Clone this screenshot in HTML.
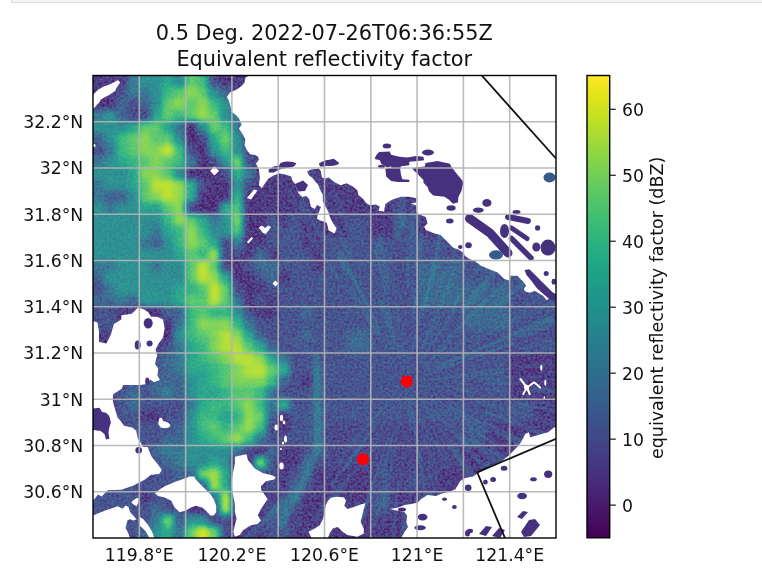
<!DOCTYPE html>
<html><head><meta charset="utf-8"><style>
html,body{margin:0;padding:0;background:#fff;width:762px;height:570px;overflow:hidden}
#nb{position:absolute;left:11px;top:-10px;width:800px;height:11.5px;background:#f3f3f3;border:1px solid #dcdcdc;border-top:none}
svg{position:absolute;left:0;top:0}
.t{font-family:"DejaVu Sans","Liberation Sans",sans-serif;font-size:17.25px;fill:#111}
.ti{font-family:"DejaVu Sans","Liberation Sans",sans-serif;font-size:20.85px;fill:#111}
</style></head><body>
<div id="nb"></div>
<svg width="762" height="570" viewBox="0 0 762 570">
<defs>
<clipPath id="pc"><rect x="93" y="75.5" width="463" height="462.5"/></clipPath>
<filter id="bl" x="-5%" y="-5%" width="110%" height="110%" color-interpolation-filters="sRGB"><feGaussianBlur stdDeviation="3.2" result="b0"/><feGaussianBlur in="b0" stdDeviation="12" result="lo"/><feComposite in="b0" in2="lo" operator="arithmetic" k1="0" k2="1.3" k3="-0.3" k4="0"/></filter>
<filter id="bl2" color-interpolation-filters="sRGB"><feGaussianBlur stdDeviation="0.6"/></filter>
<filter id="cm" filterUnits="userSpaceOnUse" x="53" y="35.5" width="543" height="542.5" color-interpolation-filters="sRGB">
<feOffset in="SourceGraphic" dx="0" dy="0" result="b"/>
<feTurbulence type="fractalNoise" baseFrequency="0.42" numOctaves="2" seed="5" result="n"/>
<feColorMatrix in="n" type="matrix" values="1 0 0 0 0  1 0 0 0 0  1 0 0 0 0  0 0 0 0 1" result="ng"/>
<feComposite in="b" in2="ng" operator="arithmetic" k1="-0.660" k2="1.330" k3="0.55" k4="-0.275" result="v"/>
<feComponentTransfer in="v"><feFuncR type="table" tableValues="0.267 0.277 0.282 0.283 0.279 0.271 0.259 0.245 0.230 0.214 0.199 0.186 0.173 0.161 0.149 0.138 0.128 0.121 0.121 0.132 0.158 0.197 0.246 0.304 0.369 0.440 0.516 0.596 0.678 0.762 0.846 0.926 0.993"/><feFuncG type="table" tableValues="0.005 0.050 0.095 0.136 0.175 0.214 0.252 0.288 0.322 0.356 0.388 0.419 0.449 0.479 0.508 0.537 0.567 0.596 0.626 0.655 0.684 0.712 0.739 0.765 0.789 0.811 0.831 0.849 0.864 0.876 0.887 0.897 0.906"/><feFuncB type="table" tableValues="0.329 0.376 0.417 0.453 0.483 0.507 0.525 0.537 0.546 0.551 0.555 0.557 0.558 0.558 0.557 0.555 0.551 0.544 0.533 0.520 0.502 0.479 0.452 0.420 0.383 0.341 0.294 0.243 0.190 0.137 0.100 0.104 0.144"/></feComponentTransfer>
</filter>
<linearGradient id="vg" x1="0" y1="1" x2="0" y2="0">
<stop offset="0.000" stop-color="#440154"/>
<stop offset="0.050" stop-color="#471365"/>
<stop offset="0.100" stop-color="#482475"/>
<stop offset="0.150" stop-color="#463480"/>
<stop offset="0.200" stop-color="#414487"/>
<stop offset="0.250" stop-color="#3b528b"/>
<stop offset="0.300" stop-color="#355f8d"/>
<stop offset="0.350" stop-color="#2f6c8e"/>
<stop offset="0.400" stop-color="#2a788e"/>
<stop offset="0.450" stop-color="#25848e"/>
<stop offset="0.500" stop-color="#21918c"/>
<stop offset="0.550" stop-color="#1e9c89"/>
<stop offset="0.600" stop-color="#22a884"/>
<stop offset="0.650" stop-color="#2fb47c"/>
<stop offset="0.700" stop-color="#44bf70"/>
<stop offset="0.750" stop-color="#5ec962"/>
<stop offset="0.800" stop-color="#7ad151"/>
<stop offset="0.850" stop-color="#9bd93c"/>
<stop offset="0.900" stop-color="#bddf26"/>
<stop offset="0.950" stop-color="#dfe318"/>
<stop offset="1.000" stop-color="#fde725"/>
</linearGradient>
</defs>
<g clip-path="url(#pc)">
<g filter="url(#cm)">
<g filter="url(#bl)">
<rect x="46.4" y="28.9" width="81.6" height="12.2" fill="#242424"/>
<rect x="127.4" y="28.9" width="12.2" height="12.2" fill="#5b5b5b"/>
<rect x="139.0" y="28.9" width="23.8" height="12.2" fill="#727272"/>
<rect x="162.1" y="28.9" width="12.2" height="12.2" fill="#898989"/>
<rect x="173.7" y="28.9" width="12.2" height="12.2" fill="#727272"/>
<rect x="185.3" y="28.9" width="12.2" height="12.2" fill="#adadad"/>
<rect x="196.9" y="28.9" width="12.2" height="12.2" fill="#9b9b9b"/>
<rect x="208.4" y="28.9" width="12.2" height="12.2" fill="#373737"/>
<rect x="220.0" y="28.9" width="382.6" height="12.2" fill="#242424"/>
<rect x="46.4" y="40.5" width="81.6" height="12.2" fill="#242424"/>
<rect x="127.4" y="40.5" width="12.2" height="12.2" fill="#5b5b5b"/>
<rect x="139.0" y="40.5" width="23.8" height="12.2" fill="#727272"/>
<rect x="162.1" y="40.5" width="12.2" height="12.2" fill="#898989"/>
<rect x="173.7" y="40.5" width="12.2" height="12.2" fill="#727272"/>
<rect x="185.3" y="40.5" width="12.2" height="12.2" fill="#adadad"/>
<rect x="196.9" y="40.5" width="12.2" height="12.2" fill="#9b9b9b"/>
<rect x="208.4" y="40.5" width="12.2" height="12.2" fill="#373737"/>
<rect x="220.0" y="40.5" width="382.6" height="12.2" fill="#242424"/>
<rect x="46.4" y="52.1" width="81.6" height="12.2" fill="#242424"/>
<rect x="127.4" y="52.1" width="12.2" height="12.2" fill="#5b5b5b"/>
<rect x="139.0" y="52.1" width="23.8" height="12.2" fill="#727272"/>
<rect x="162.1" y="52.1" width="12.2" height="12.2" fill="#898989"/>
<rect x="173.7" y="52.1" width="12.2" height="12.2" fill="#727272"/>
<rect x="185.3" y="52.1" width="12.2" height="12.2" fill="#adadad"/>
<rect x="196.9" y="52.1" width="12.2" height="12.2" fill="#9b9b9b"/>
<rect x="208.4" y="52.1" width="12.2" height="12.2" fill="#373737"/>
<rect x="220.0" y="52.1" width="382.6" height="12.2" fill="#242424"/>
<rect x="46.4" y="63.6" width="81.6" height="12.2" fill="#242424"/>
<rect x="127.4" y="63.6" width="12.2" height="12.2" fill="#5b5b5b"/>
<rect x="139.0" y="63.6" width="23.8" height="12.2" fill="#727272"/>
<rect x="162.1" y="63.6" width="12.2" height="12.2" fill="#898989"/>
<rect x="173.7" y="63.6" width="12.2" height="12.2" fill="#727272"/>
<rect x="185.3" y="63.6" width="12.2" height="12.2" fill="#adadad"/>
<rect x="196.9" y="63.6" width="12.2" height="12.2" fill="#9b9b9b"/>
<rect x="208.4" y="63.6" width="12.2" height="12.2" fill="#373737"/>
<rect x="220.0" y="63.6" width="382.6" height="12.2" fill="#242424"/>
<rect x="46.4" y="75.2" width="81.6" height="12.2" fill="#242424"/>
<rect x="127.4" y="75.2" width="12.2" height="12.2" fill="#5b5b5b"/>
<rect x="139.0" y="75.2" width="23.8" height="12.2" fill="#727272"/>
<rect x="162.1" y="75.2" width="12.2" height="12.2" fill="#898989"/>
<rect x="173.7" y="75.2" width="12.2" height="12.2" fill="#727272"/>
<rect x="185.3" y="75.2" width="12.2" height="12.2" fill="#adadad"/>
<rect x="196.9" y="75.2" width="12.2" height="12.2" fill="#9b9b9b"/>
<rect x="208.4" y="75.2" width="12.2" height="12.2" fill="#373737"/>
<rect x="220.0" y="75.2" width="382.6" height="12.2" fill="#242424"/>
<rect x="46.4" y="86.8" width="70.0" height="12.2" fill="#242424"/>
<rect x="115.9" y="86.8" width="12.2" height="12.2" fill="#373737"/>
<rect x="127.4" y="86.8" width="23.8" height="12.2" fill="#5b5b5b"/>
<rect x="150.6" y="86.8" width="12.2" height="12.2" fill="#727272"/>
<rect x="162.1" y="86.8" width="12.2" height="12.2" fill="#9b9b9b"/>
<rect x="173.7" y="86.8" width="12.2" height="12.2" fill="#adadad"/>
<rect x="185.3" y="86.8" width="12.2" height="12.2" fill="#bfbfbf"/>
<rect x="196.9" y="86.8" width="12.2" height="12.2" fill="#adadad"/>
<rect x="208.4" y="86.8" width="12.2" height="12.2" fill="#727272"/>
<rect x="220.0" y="86.8" width="12.2" height="12.2" fill="#494949"/>
<rect x="231.6" y="86.8" width="371.0" height="12.2" fill="#242424"/>
<rect x="46.4" y="98.3" width="70.0" height="12.2" fill="#242424"/>
<rect x="115.9" y="98.3" width="12.2" height="12.2" fill="#494949"/>
<rect x="127.4" y="98.3" width="12.2" height="12.2" fill="#373737"/>
<rect x="139.0" y="98.3" width="12.2" height="12.2" fill="#494949"/>
<rect x="150.6" y="98.3" width="12.2" height="12.2" fill="#727272"/>
<rect x="162.1" y="98.3" width="12.2" height="12.2" fill="#adadad"/>
<rect x="173.7" y="98.3" width="12.2" height="12.2" fill="#bfbfbf"/>
<rect x="185.3" y="98.3" width="12.2" height="12.2" fill="#adadad"/>
<rect x="196.9" y="98.3" width="12.2" height="12.2" fill="#bfbfbf"/>
<rect x="208.4" y="98.3" width="12.2" height="12.2" fill="#9b9b9b"/>
<rect x="220.0" y="98.3" width="12.2" height="12.2" fill="#727272"/>
<rect x="231.6" y="98.3" width="12.2" height="12.2" fill="#373737"/>
<rect x="243.2" y="98.3" width="359.4" height="12.2" fill="#242424"/>
<rect x="46.4" y="109.9" width="58.5" height="12.2" fill="#5b5b5b"/>
<rect x="104.3" y="109.9" width="12.2" height="12.2" fill="#727272"/>
<rect x="115.9" y="109.9" width="12.2" height="12.2" fill="#494949"/>
<rect x="127.4" y="109.9" width="23.8" height="12.2" fill="#373737"/>
<rect x="150.6" y="109.9" width="12.2" height="12.2" fill="#898989"/>
<rect x="162.1" y="109.9" width="12.2" height="12.2" fill="#adadad"/>
<rect x="173.7" y="109.9" width="12.2" height="12.2" fill="#9b9b9b"/>
<rect x="185.3" y="109.9" width="12.2" height="12.2" fill="#adadad"/>
<rect x="196.9" y="109.9" width="12.2" height="12.2" fill="#bfbfbf"/>
<rect x="208.4" y="109.9" width="12.2" height="12.2" fill="#adadad"/>
<rect x="220.0" y="109.9" width="12.2" height="12.2" fill="#727272"/>
<rect x="231.6" y="109.9" width="12.2" height="12.2" fill="#5b5b5b"/>
<rect x="243.2" y="109.9" width="359.4" height="12.2" fill="#242424"/>
<rect x="46.4" y="121.5" width="81.6" height="12.2" fill="#727272"/>
<rect x="127.4" y="121.5" width="12.2" height="12.2" fill="#898989"/>
<rect x="139.0" y="121.5" width="23.8" height="12.2" fill="#adadad"/>
<rect x="162.1" y="121.5" width="12.2" height="12.2" fill="#898989"/>
<rect x="173.7" y="121.5" width="12.2" height="12.2" fill="#5b5b5b"/>
<rect x="185.3" y="121.5" width="12.2" height="12.2" fill="#242424"/>
<rect x="196.9" y="121.5" width="12.2" height="12.2" fill="#727272"/>
<rect x="208.4" y="121.5" width="12.2" height="12.2" fill="#adadad"/>
<rect x="220.0" y="121.5" width="12.2" height="12.2" fill="#9b9b9b"/>
<rect x="231.6" y="121.5" width="12.2" height="12.2" fill="#5b5b5b"/>
<rect x="243.2" y="121.5" width="359.4" height="12.2" fill="#242424"/>
<rect x="46.4" y="133.0" width="58.5" height="12.2" fill="#494949"/>
<rect x="104.3" y="133.0" width="12.2" height="12.2" fill="#727272"/>
<rect x="115.9" y="133.0" width="12.2" height="12.2" fill="#9b9b9b"/>
<rect x="127.4" y="133.0" width="12.2" height="12.2" fill="#adadad"/>
<rect x="139.0" y="133.0" width="12.2" height="12.2" fill="#bfbfbf"/>
<rect x="150.6" y="133.0" width="23.8" height="12.2" fill="#adadad"/>
<rect x="173.7" y="133.0" width="12.2" height="12.2" fill="#727272"/>
<rect x="185.3" y="133.0" width="12.2" height="12.2" fill="#242424"/>
<rect x="196.9" y="133.0" width="12.2" height="12.2" fill="#373737"/>
<rect x="208.4" y="133.0" width="12.2" height="12.2" fill="#898989"/>
<rect x="220.0" y="133.0" width="12.2" height="12.2" fill="#adadad"/>
<rect x="231.6" y="133.0" width="12.2" height="12.2" fill="#727272"/>
<rect x="243.2" y="133.0" width="359.4" height="12.2" fill="#242424"/>
<rect x="46.4" y="144.6" width="58.5" height="12.2" fill="#373737"/>
<rect x="104.3" y="144.6" width="12.2" height="12.2" fill="#5b5b5b"/>
<rect x="115.9" y="144.6" width="12.2" height="12.2" fill="#9b9b9b"/>
<rect x="127.4" y="144.6" width="12.2" height="12.2" fill="#adadad"/>
<rect x="139.0" y="144.6" width="23.8" height="12.2" fill="#bfbfbf"/>
<rect x="162.1" y="144.6" width="12.2" height="12.2" fill="#d1d1d1"/>
<rect x="173.7" y="144.6" width="12.2" height="12.2" fill="#9b9b9b"/>
<rect x="185.3" y="144.6" width="12.2" height="12.2" fill="#373737"/>
<rect x="196.9" y="144.6" width="12.2" height="12.2" fill="#242424"/>
<rect x="208.4" y="144.6" width="12.2" height="12.2" fill="#727272"/>
<rect x="220.0" y="144.6" width="12.2" height="12.2" fill="#9b9b9b"/>
<rect x="231.6" y="144.6" width="12.2" height="12.2" fill="#727272"/>
<rect x="243.2" y="144.6" width="12.2" height="12.2" fill="#373737"/>
<rect x="254.7" y="144.6" width="347.9" height="12.2" fill="#242424"/>
<rect x="46.4" y="156.1" width="58.5" height="12.2" fill="#5b5b5b"/>
<rect x="104.3" y="156.1" width="12.2" height="12.2" fill="#727272"/>
<rect x="115.9" y="156.1" width="12.2" height="12.2" fill="#898989"/>
<rect x="127.4" y="156.1" width="12.2" height="12.2" fill="#9b9b9b"/>
<rect x="139.0" y="156.1" width="12.2" height="12.2" fill="#adadad"/>
<rect x="150.6" y="156.1" width="12.2" height="12.2" fill="#bfbfbf"/>
<rect x="162.1" y="156.1" width="12.2" height="12.2" fill="#adadad"/>
<rect x="173.7" y="156.1" width="12.2" height="12.2" fill="#9b9b9b"/>
<rect x="185.3" y="156.1" width="12.2" height="12.2" fill="#5b5b5b"/>
<rect x="196.9" y="156.1" width="12.2" height="12.2" fill="#242424"/>
<rect x="208.4" y="156.1" width="12.2" height="12.2" fill="#373737"/>
<rect x="220.0" y="156.1" width="12.2" height="12.2" fill="#727272"/>
<rect x="231.6" y="156.1" width="12.2" height="12.2" fill="#adadad"/>
<rect x="243.2" y="156.1" width="12.2" height="12.2" fill="#373737"/>
<rect x="254.7" y="156.1" width="347.9" height="12.2" fill="#242424"/>
<rect x="46.4" y="167.7" width="81.6" height="12.2" fill="#727272"/>
<rect x="127.4" y="167.7" width="12.2" height="12.2" fill="#898989"/>
<rect x="139.0" y="167.7" width="23.8" height="12.2" fill="#bfbfbf"/>
<rect x="162.1" y="167.7" width="12.2" height="12.2" fill="#adadad"/>
<rect x="173.7" y="167.7" width="12.2" height="12.2" fill="#727272"/>
<rect x="185.3" y="167.7" width="35.3" height="12.2" fill="#242424"/>
<rect x="220.0" y="167.7" width="12.2" height="12.2" fill="#373737"/>
<rect x="231.6" y="167.7" width="12.2" height="12.2" fill="#898989"/>
<rect x="243.2" y="167.7" width="12.2" height="12.2" fill="#5b5b5b"/>
<rect x="254.7" y="167.7" width="347.9" height="12.2" fill="#242424"/>
<rect x="46.4" y="179.3" width="58.5" height="12.2" fill="#5b5b5b"/>
<rect x="104.3" y="179.3" width="23.8" height="12.2" fill="#727272"/>
<rect x="127.4" y="179.3" width="12.2" height="12.2" fill="#898989"/>
<rect x="139.0" y="179.3" width="12.2" height="12.2" fill="#adadad"/>
<rect x="150.6" y="179.3" width="23.8" height="12.2" fill="#d1d1d1"/>
<rect x="173.7" y="179.3" width="12.2" height="12.2" fill="#bfbfbf"/>
<rect x="185.3" y="179.3" width="12.2" height="12.2" fill="#898989"/>
<rect x="196.9" y="179.3" width="12.2" height="12.2" fill="#373737"/>
<rect x="208.4" y="179.3" width="23.8" height="12.2" fill="#242424"/>
<rect x="231.6" y="179.3" width="12.2" height="12.2" fill="#727272"/>
<rect x="243.2" y="179.3" width="12.2" height="12.2" fill="#373737"/>
<rect x="254.7" y="179.3" width="347.9" height="12.2" fill="#242424"/>
<rect x="46.4" y="190.8" width="58.5" height="12.2" fill="#5b5b5b"/>
<rect x="104.3" y="190.8" width="23.8" height="12.2" fill="#494949"/>
<rect x="127.4" y="190.8" width="12.2" height="12.2" fill="#727272"/>
<rect x="139.0" y="190.8" width="12.2" height="12.2" fill="#adadad"/>
<rect x="150.6" y="190.8" width="12.2" height="12.2" fill="#bfbfbf"/>
<rect x="162.1" y="190.8" width="12.2" height="12.2" fill="#d1d1d1"/>
<rect x="173.7" y="190.8" width="12.2" height="12.2" fill="#bfbfbf"/>
<rect x="185.3" y="190.8" width="12.2" height="12.2" fill="#898989"/>
<rect x="196.9" y="190.8" width="35.3" height="12.2" fill="#242424"/>
<rect x="231.6" y="190.8" width="12.2" height="12.2" fill="#898989"/>
<rect x="243.2" y="190.8" width="359.4" height="12.2" fill="#242424"/>
<rect x="46.4" y="202.4" width="58.5" height="12.2" fill="#727272"/>
<rect x="104.3" y="202.4" width="12.2" height="12.2" fill="#5b5b5b"/>
<rect x="115.9" y="202.4" width="23.8" height="12.2" fill="#727272"/>
<rect x="139.0" y="202.4" width="23.8" height="12.2" fill="#898989"/>
<rect x="162.1" y="202.4" width="12.2" height="12.2" fill="#adadad"/>
<rect x="173.7" y="202.4" width="12.2" height="12.2" fill="#bfbfbf"/>
<rect x="185.3" y="202.4" width="12.2" height="12.2" fill="#373737"/>
<rect x="196.9" y="202.4" width="23.8" height="12.2" fill="#242424"/>
<rect x="220.0" y="202.4" width="12.2" height="12.2" fill="#898989"/>
<rect x="231.6" y="202.4" width="12.2" height="12.2" fill="#9b9b9b"/>
<rect x="243.2" y="202.4" width="359.4" height="12.2" fill="#242424"/>
<rect x="46.4" y="213.9" width="116.3" height="12.2" fill="#727272"/>
<rect x="162.1" y="213.9" width="12.2" height="12.2" fill="#9b9b9b"/>
<rect x="173.7" y="213.9" width="12.2" height="12.2" fill="#bfbfbf"/>
<rect x="185.3" y="213.9" width="12.2" height="12.2" fill="#adadad"/>
<rect x="196.9" y="213.9" width="12.2" height="12.2" fill="#898989"/>
<rect x="208.4" y="213.9" width="12.2" height="12.2" fill="#5b5b5b"/>
<rect x="220.0" y="213.9" width="12.2" height="12.2" fill="#727272"/>
<rect x="231.6" y="213.9" width="12.2" height="12.2" fill="#adadad"/>
<rect x="243.2" y="213.9" width="23.8" height="12.2" fill="#242424"/>
<rect x="266.3" y="213.9" width="12.2" height="12.2" fill="#373737"/>
<rect x="277.9" y="213.9" width="12.2" height="12.2" fill="#242424"/>
<rect x="289.5" y="213.9" width="12.2" height="12.2" fill="#373737"/>
<rect x="301.1" y="213.9" width="46.9" height="12.2" fill="#242424"/>
<rect x="347.3" y="213.9" width="23.8" height="12.2" fill="#373737"/>
<rect x="370.5" y="213.9" width="23.8" height="12.2" fill="#242424"/>
<rect x="393.6" y="213.9" width="23.8" height="12.2" fill="#373737"/>
<rect x="416.8" y="213.9" width="185.8" height="12.2" fill="#242424"/>
<rect x="46.4" y="225.5" width="104.8" height="12.2" fill="#727272"/>
<rect x="150.6" y="225.5" width="12.2" height="12.2" fill="#5b5b5b"/>
<rect x="162.1" y="225.5" width="12.2" height="12.2" fill="#898989"/>
<rect x="173.7" y="225.5" width="12.2" height="12.2" fill="#9b9b9b"/>
<rect x="185.3" y="225.5" width="12.2" height="12.2" fill="#bfbfbf"/>
<rect x="196.9" y="225.5" width="12.2" height="12.2" fill="#9b9b9b"/>
<rect x="208.4" y="225.5" width="23.8" height="12.2" fill="#727272"/>
<rect x="231.6" y="225.5" width="12.2" height="12.2" fill="#9b9b9b"/>
<rect x="243.2" y="225.5" width="23.8" height="12.2" fill="#242424"/>
<rect x="266.3" y="225.5" width="35.3" height="12.2" fill="#373737"/>
<rect x="301.1" y="225.5" width="46.9" height="12.2" fill="#242424"/>
<rect x="347.3" y="225.5" width="23.8" height="12.2" fill="#373737"/>
<rect x="370.5" y="225.5" width="23.8" height="12.2" fill="#242424"/>
<rect x="393.6" y="225.5" width="23.8" height="12.2" fill="#373737"/>
<rect x="416.8" y="225.5" width="185.8" height="12.2" fill="#242424"/>
<rect x="46.4" y="237.1" width="93.2" height="12.2" fill="#727272"/>
<rect x="139.0" y="237.1" width="12.2" height="12.2" fill="#5b5b5b"/>
<rect x="150.6" y="237.1" width="12.2" height="12.2" fill="#494949"/>
<rect x="162.1" y="237.1" width="12.2" height="12.2" fill="#727272"/>
<rect x="173.7" y="237.1" width="12.2" height="12.2" fill="#9b9b9b"/>
<rect x="185.3" y="237.1" width="12.2" height="12.2" fill="#bfbfbf"/>
<rect x="196.9" y="237.1" width="12.2" height="12.2" fill="#adadad"/>
<rect x="208.4" y="237.1" width="12.2" height="12.2" fill="#898989"/>
<rect x="220.0" y="237.1" width="12.2" height="12.2" fill="#373737"/>
<rect x="231.6" y="237.1" width="12.2" height="12.2" fill="#5b5b5b"/>
<rect x="243.2" y="237.1" width="23.8" height="12.2" fill="#242424"/>
<rect x="266.3" y="237.1" width="35.3" height="12.2" fill="#373737"/>
<rect x="301.1" y="237.1" width="23.8" height="12.2" fill="#242424"/>
<rect x="324.2" y="237.1" width="139.5" height="12.2" fill="#373737"/>
<rect x="463.1" y="237.1" width="139.5" height="12.2" fill="#242424"/>
<rect x="46.4" y="248.6" width="127.9" height="12.2" fill="#727272"/>
<rect x="173.7" y="248.6" width="12.2" height="12.2" fill="#898989"/>
<rect x="185.3" y="248.6" width="12.2" height="12.2" fill="#adadad"/>
<rect x="196.9" y="248.6" width="12.2" height="12.2" fill="#9b9b9b"/>
<rect x="208.4" y="248.6" width="12.2" height="12.2" fill="#bfbfbf"/>
<rect x="220.0" y="248.6" width="23.8" height="12.2" fill="#373737"/>
<rect x="243.2" y="248.6" width="12.2" height="12.2" fill="#242424"/>
<rect x="254.7" y="248.6" width="12.2" height="12.2" fill="#494949"/>
<rect x="266.3" y="248.6" width="12.2" height="12.2" fill="#242424"/>
<rect x="277.9" y="248.6" width="35.3" height="12.2" fill="#373737"/>
<rect x="312.6" y="248.6" width="12.2" height="12.2" fill="#242424"/>
<rect x="324.2" y="248.6" width="139.5" height="12.2" fill="#373737"/>
<rect x="463.1" y="248.6" width="139.5" height="12.2" fill="#242424"/>
<rect x="46.4" y="260.2" width="70.0" height="12.2" fill="#5b5b5b"/>
<rect x="115.9" y="260.2" width="35.3" height="12.2" fill="#727272"/>
<rect x="150.6" y="260.2" width="12.2" height="12.2" fill="#5b5b5b"/>
<rect x="162.1" y="260.2" width="23.8" height="12.2" fill="#727272"/>
<rect x="185.3" y="260.2" width="12.2" height="12.2" fill="#adadad"/>
<rect x="196.9" y="260.2" width="12.2" height="12.2" fill="#d1d1d1"/>
<rect x="208.4" y="260.2" width="12.2" height="12.2" fill="#adadad"/>
<rect x="220.0" y="260.2" width="12.2" height="12.2" fill="#373737"/>
<rect x="231.6" y="260.2" width="12.2" height="12.2" fill="#242424"/>
<rect x="243.2" y="260.2" width="12.2" height="12.2" fill="#373737"/>
<rect x="254.7" y="260.2" width="23.8" height="12.2" fill="#494949"/>
<rect x="277.9" y="260.2" width="35.3" height="12.2" fill="#373737"/>
<rect x="312.6" y="260.2" width="12.2" height="12.2" fill="#242424"/>
<rect x="324.2" y="260.2" width="93.2" height="12.2" fill="#373737"/>
<rect x="416.8" y="260.2" width="46.9" height="12.2" fill="#494949"/>
<rect x="463.1" y="260.2" width="70.0" height="12.2" fill="#373737"/>
<rect x="532.5" y="260.2" width="70.0" height="12.2" fill="#242424"/>
<rect x="46.4" y="271.8" width="58.5" height="12.2" fill="#494949"/>
<rect x="104.3" y="271.8" width="81.6" height="12.2" fill="#727272"/>
<rect x="185.3" y="271.8" width="12.2" height="12.2" fill="#adadad"/>
<rect x="196.9" y="271.8" width="12.2" height="12.2" fill="#d1d1d1"/>
<rect x="208.4" y="271.8" width="12.2" height="12.2" fill="#bfbfbf"/>
<rect x="220.0" y="271.8" width="12.2" height="12.2" fill="#898989"/>
<rect x="231.6" y="271.8" width="23.8" height="12.2" fill="#242424"/>
<rect x="254.7" y="271.8" width="12.2" height="12.2" fill="#373737"/>
<rect x="266.3" y="271.8" width="12.2" height="12.2" fill="#494949"/>
<rect x="277.9" y="271.8" width="12.2" height="12.2" fill="#242424"/>
<rect x="289.5" y="271.8" width="127.9" height="12.2" fill="#373737"/>
<rect x="416.8" y="271.8" width="46.9" height="12.2" fill="#494949"/>
<rect x="463.1" y="271.8" width="70.0" height="12.2" fill="#373737"/>
<rect x="532.5" y="271.8" width="70.0" height="12.2" fill="#242424"/>
<rect x="46.4" y="283.3" width="58.5" height="12.2" fill="#373737"/>
<rect x="104.3" y="283.3" width="12.2" height="12.2" fill="#5b5b5b"/>
<rect x="115.9" y="283.3" width="58.5" height="12.2" fill="#727272"/>
<rect x="173.7" y="283.3" width="12.2" height="12.2" fill="#898989"/>
<rect x="185.3" y="283.3" width="12.2" height="12.2" fill="#9b9b9b"/>
<rect x="196.9" y="283.3" width="12.2" height="12.2" fill="#adadad"/>
<rect x="208.4" y="283.3" width="12.2" height="12.2" fill="#d1d1d1"/>
<rect x="220.0" y="283.3" width="12.2" height="12.2" fill="#adadad"/>
<rect x="231.6" y="283.3" width="12.2" height="12.2" fill="#373737"/>
<rect x="243.2" y="283.3" width="23.8" height="12.2" fill="#242424"/>
<rect x="266.3" y="283.3" width="151.1" height="12.2" fill="#373737"/>
<rect x="416.8" y="283.3" width="93.2" height="12.2" fill="#494949"/>
<rect x="509.4" y="283.3" width="93.2" height="12.2" fill="#373737"/>
<rect x="46.4" y="294.9" width="70.0" height="12.2" fill="#494949"/>
<rect x="115.9" y="294.9" width="12.2" height="12.2" fill="#5b5b5b"/>
<rect x="127.4" y="294.9" width="12.2" height="12.2" fill="#494949"/>
<rect x="139.0" y="294.9" width="35.3" height="12.2" fill="#727272"/>
<rect x="173.7" y="294.9" width="12.2" height="12.2" fill="#898989"/>
<rect x="185.3" y="294.9" width="23.8" height="12.2" fill="#adadad"/>
<rect x="208.4" y="294.9" width="12.2" height="12.2" fill="#d1d1d1"/>
<rect x="220.0" y="294.9" width="12.2" height="12.2" fill="#adadad"/>
<rect x="231.6" y="294.9" width="12.2" height="12.2" fill="#5b5b5b"/>
<rect x="243.2" y="294.9" width="12.2" height="12.2" fill="#242424"/>
<rect x="254.7" y="294.9" width="12.2" height="12.2" fill="#373737"/>
<rect x="266.3" y="294.9" width="12.2" height="12.2" fill="#242424"/>
<rect x="277.9" y="294.9" width="139.5" height="12.2" fill="#373737"/>
<rect x="416.8" y="294.9" width="93.2" height="12.2" fill="#494949"/>
<rect x="509.4" y="294.9" width="93.2" height="12.2" fill="#373737"/>
<rect x="46.4" y="306.4" width="70.0" height="12.2" fill="#373737"/>
<rect x="115.9" y="306.4" width="46.9" height="12.2" fill="#242424"/>
<rect x="162.1" y="306.4" width="23.8" height="12.2" fill="#494949"/>
<rect x="185.3" y="306.4" width="12.2" height="12.2" fill="#9b9b9b"/>
<rect x="196.9" y="306.4" width="12.2" height="12.2" fill="#adadad"/>
<rect x="208.4" y="306.4" width="23.8" height="12.2" fill="#9b9b9b"/>
<rect x="231.6" y="306.4" width="12.2" height="12.2" fill="#727272"/>
<rect x="243.2" y="306.4" width="12.2" height="12.2" fill="#373737"/>
<rect x="254.7" y="306.4" width="23.8" height="12.2" fill="#242424"/>
<rect x="277.9" y="306.4" width="23.8" height="12.2" fill="#373737"/>
<rect x="301.1" y="306.4" width="12.2" height="12.2" fill="#494949"/>
<rect x="312.6" y="306.4" width="151.1" height="12.2" fill="#373737"/>
<rect x="463.1" y="306.4" width="46.9" height="12.2" fill="#494949"/>
<rect x="509.4" y="306.4" width="93.2" height="12.2" fill="#373737"/>
<rect x="46.4" y="318.0" width="70.0" height="12.2" fill="#373737"/>
<rect x="115.9" y="318.0" width="58.5" height="12.2" fill="#242424"/>
<rect x="173.7" y="318.0" width="12.2" height="12.2" fill="#5b5b5b"/>
<rect x="185.3" y="318.0" width="12.2" height="12.2" fill="#9b9b9b"/>
<rect x="196.9" y="318.0" width="35.3" height="12.2" fill="#bfbfbf"/>
<rect x="231.6" y="318.0" width="12.2" height="12.2" fill="#9b9b9b"/>
<rect x="243.2" y="318.0" width="12.2" height="12.2" fill="#5b5b5b"/>
<rect x="254.7" y="318.0" width="208.9" height="12.2" fill="#373737"/>
<rect x="463.1" y="318.0" width="46.9" height="12.2" fill="#494949"/>
<rect x="509.4" y="318.0" width="93.2" height="12.2" fill="#373737"/>
<rect x="46.4" y="329.6" width="127.9" height="12.2" fill="#242424"/>
<rect x="173.7" y="329.6" width="12.2" height="12.2" fill="#727272"/>
<rect x="185.3" y="329.6" width="12.2" height="12.2" fill="#9b9b9b"/>
<rect x="196.9" y="329.6" width="12.2" height="12.2" fill="#adadad"/>
<rect x="208.4" y="329.6" width="12.2" height="12.2" fill="#bfbfbf"/>
<rect x="220.0" y="329.6" width="12.2" height="12.2" fill="#d1d1d1"/>
<rect x="231.6" y="329.6" width="12.2" height="12.2" fill="#bfbfbf"/>
<rect x="243.2" y="329.6" width="12.2" height="12.2" fill="#898989"/>
<rect x="254.7" y="329.6" width="12.2" height="12.2" fill="#494949"/>
<rect x="266.3" y="329.6" width="35.3" height="12.2" fill="#373737"/>
<rect x="301.1" y="329.6" width="12.2" height="12.2" fill="#494949"/>
<rect x="312.6" y="329.6" width="35.3" height="12.2" fill="#373737"/>
<rect x="347.3" y="329.6" width="23.8" height="12.2" fill="#494949"/>
<rect x="370.5" y="329.6" width="232.1" height="12.2" fill="#373737"/>
<rect x="46.4" y="341.1" width="116.3" height="12.2" fill="#242424"/>
<rect x="162.1" y="341.1" width="12.2" height="12.2" fill="#373737"/>
<rect x="173.7" y="341.1" width="12.2" height="12.2" fill="#5b5b5b"/>
<rect x="185.3" y="341.1" width="12.2" height="12.2" fill="#898989"/>
<rect x="196.9" y="341.1" width="12.2" height="12.2" fill="#9b9b9b"/>
<rect x="208.4" y="341.1" width="12.2" height="12.2" fill="#bfbfbf"/>
<rect x="220.0" y="341.1" width="23.8" height="12.2" fill="#d1d1d1"/>
<rect x="243.2" y="341.1" width="12.2" height="12.2" fill="#adadad"/>
<rect x="254.7" y="341.1" width="12.2" height="12.2" fill="#898989"/>
<rect x="266.3" y="341.1" width="12.2" height="12.2" fill="#494949"/>
<rect x="277.9" y="341.1" width="70.0" height="12.2" fill="#373737"/>
<rect x="347.3" y="341.1" width="23.8" height="12.2" fill="#494949"/>
<rect x="370.5" y="341.1" width="232.1" height="12.2" fill="#373737"/>
<rect x="46.4" y="352.7" width="104.8" height="12.2" fill="#242424"/>
<rect x="150.6" y="352.7" width="12.2" height="12.2" fill="#373737"/>
<rect x="162.1" y="352.7" width="12.2" height="12.2" fill="#494949"/>
<rect x="173.7" y="352.7" width="12.2" height="12.2" fill="#5b5b5b"/>
<rect x="185.3" y="352.7" width="12.2" height="12.2" fill="#898989"/>
<rect x="196.9" y="352.7" width="12.2" height="12.2" fill="#9b9b9b"/>
<rect x="208.4" y="352.7" width="12.2" height="12.2" fill="#adadad"/>
<rect x="220.0" y="352.7" width="12.2" height="12.2" fill="#bfbfbf"/>
<rect x="231.6" y="352.7" width="23.8" height="12.2" fill="#d1d1d1"/>
<rect x="254.7" y="352.7" width="12.2" height="12.2" fill="#bfbfbf"/>
<rect x="266.3" y="352.7" width="12.2" height="12.2" fill="#898989"/>
<rect x="277.9" y="352.7" width="12.2" height="12.2" fill="#5b5b5b"/>
<rect x="289.5" y="352.7" width="220.5" height="12.2" fill="#373737"/>
<rect x="509.4" y="352.7" width="93.2" height="12.2" fill="#242424"/>
<rect x="46.4" y="364.3" width="104.8" height="12.2" fill="#242424"/>
<rect x="150.6" y="364.3" width="12.2" height="12.2" fill="#373737"/>
<rect x="162.1" y="364.3" width="12.2" height="12.2" fill="#494949"/>
<rect x="173.7" y="364.3" width="12.2" height="12.2" fill="#5b5b5b"/>
<rect x="185.3" y="364.3" width="23.8" height="12.2" fill="#898989"/>
<rect x="208.4" y="364.3" width="12.2" height="12.2" fill="#9b9b9b"/>
<rect x="220.0" y="364.3" width="12.2" height="12.2" fill="#adadad"/>
<rect x="231.6" y="364.3" width="12.2" height="12.2" fill="#bfbfbf"/>
<rect x="243.2" y="364.3" width="23.8" height="12.2" fill="#d1d1d1"/>
<rect x="266.3" y="364.3" width="12.2" height="12.2" fill="#adadad"/>
<rect x="277.9" y="364.3" width="12.2" height="12.2" fill="#898989"/>
<rect x="289.5" y="364.3" width="23.8" height="12.2" fill="#373737"/>
<rect x="312.6" y="364.3" width="12.2" height="12.2" fill="#494949"/>
<rect x="324.2" y="364.3" width="185.8" height="12.2" fill="#373737"/>
<rect x="509.4" y="364.3" width="93.2" height="12.2" fill="#242424"/>
<rect x="46.4" y="375.8" width="81.6" height="12.2" fill="#242424"/>
<rect x="127.4" y="375.8" width="23.8" height="12.2" fill="#373737"/>
<rect x="150.6" y="375.8" width="35.3" height="12.2" fill="#494949"/>
<rect x="185.3" y="375.8" width="12.2" height="12.2" fill="#727272"/>
<rect x="196.9" y="375.8" width="12.2" height="12.2" fill="#898989"/>
<rect x="208.4" y="375.8" width="12.2" height="12.2" fill="#9b9b9b"/>
<rect x="220.0" y="375.8" width="12.2" height="12.2" fill="#adadad"/>
<rect x="231.6" y="375.8" width="35.3" height="12.2" fill="#bfbfbf"/>
<rect x="266.3" y="375.8" width="12.2" height="12.2" fill="#9b9b9b"/>
<rect x="277.9" y="375.8" width="12.2" height="12.2" fill="#494949"/>
<rect x="289.5" y="375.8" width="12.2" height="12.2" fill="#373737"/>
<rect x="301.1" y="375.8" width="12.2" height="12.2" fill="#242424"/>
<rect x="312.6" y="375.8" width="12.2" height="12.2" fill="#494949"/>
<rect x="324.2" y="375.8" width="185.8" height="12.2" fill="#373737"/>
<rect x="509.4" y="375.8" width="93.2" height="12.2" fill="#242424"/>
<rect x="46.4" y="387.4" width="70.0" height="12.2" fill="#242424"/>
<rect x="115.9" y="387.4" width="12.2" height="12.2" fill="#373737"/>
<rect x="127.4" y="387.4" width="12.2" height="12.2" fill="#494949"/>
<rect x="139.0" y="387.4" width="12.2" height="12.2" fill="#373737"/>
<rect x="150.6" y="387.4" width="12.2" height="12.2" fill="#494949"/>
<rect x="162.1" y="387.4" width="12.2" height="12.2" fill="#5b5b5b"/>
<rect x="173.7" y="387.4" width="12.2" height="12.2" fill="#494949"/>
<rect x="185.3" y="387.4" width="12.2" height="12.2" fill="#727272"/>
<rect x="196.9" y="387.4" width="23.8" height="12.2" fill="#898989"/>
<rect x="220.0" y="387.4" width="12.2" height="12.2" fill="#9b9b9b"/>
<rect x="231.6" y="387.4" width="23.8" height="12.2" fill="#adadad"/>
<rect x="254.7" y="387.4" width="12.2" height="12.2" fill="#9b9b9b"/>
<rect x="266.3" y="387.4" width="12.2" height="12.2" fill="#5b5b5b"/>
<rect x="277.9" y="387.4" width="35.3" height="12.2" fill="#373737"/>
<rect x="312.6" y="387.4" width="12.2" height="12.2" fill="#494949"/>
<rect x="324.2" y="387.4" width="185.8" height="12.2" fill="#373737"/>
<rect x="509.4" y="387.4" width="93.2" height="12.2" fill="#242424"/>
<rect x="46.4" y="398.9" width="70.0" height="12.2" fill="#242424"/>
<rect x="115.9" y="398.9" width="12.2" height="12.2" fill="#373737"/>
<rect x="127.4" y="398.9" width="12.2" height="12.2" fill="#494949"/>
<rect x="139.0" y="398.9" width="46.9" height="12.2" fill="#373737"/>
<rect x="185.3" y="398.9" width="12.2" height="12.2" fill="#5b5b5b"/>
<rect x="196.9" y="398.9" width="12.2" height="12.2" fill="#898989"/>
<rect x="208.4" y="398.9" width="23.8" height="12.2" fill="#9b9b9b"/>
<rect x="231.6" y="398.9" width="12.2" height="12.2" fill="#adadad"/>
<rect x="243.2" y="398.9" width="12.2" height="12.2" fill="#bfbfbf"/>
<rect x="254.7" y="398.9" width="12.2" height="12.2" fill="#9b9b9b"/>
<rect x="266.3" y="398.9" width="12.2" height="12.2" fill="#5b5b5b"/>
<rect x="277.9" y="398.9" width="12.2" height="12.2" fill="#898989"/>
<rect x="289.5" y="398.9" width="23.8" height="12.2" fill="#373737"/>
<rect x="312.6" y="398.9" width="12.2" height="12.2" fill="#494949"/>
<rect x="324.2" y="398.9" width="208.9" height="12.2" fill="#373737"/>
<rect x="532.5" y="398.9" width="70.0" height="12.2" fill="#242424"/>
<rect x="46.4" y="410.5" width="70.0" height="12.2" fill="#242424"/>
<rect x="115.9" y="410.5" width="23.8" height="12.2" fill="#373737"/>
<rect x="139.0" y="410.5" width="23.8" height="12.2" fill="#242424"/>
<rect x="162.1" y="410.5" width="23.8" height="12.2" fill="#373737"/>
<rect x="185.3" y="410.5" width="12.2" height="12.2" fill="#727272"/>
<rect x="196.9" y="410.5" width="23.8" height="12.2" fill="#9b9b9b"/>
<rect x="220.0" y="410.5" width="12.2" height="12.2" fill="#898989"/>
<rect x="231.6" y="410.5" width="12.2" height="12.2" fill="#9b9b9b"/>
<rect x="243.2" y="410.5" width="12.2" height="12.2" fill="#bfbfbf"/>
<rect x="254.7" y="410.5" width="12.2" height="12.2" fill="#adadad"/>
<rect x="266.3" y="410.5" width="12.2" height="12.2" fill="#494949"/>
<rect x="277.9" y="410.5" width="12.2" height="12.2" fill="#242424"/>
<rect x="289.5" y="410.5" width="23.8" height="12.2" fill="#373737"/>
<rect x="312.6" y="410.5" width="12.2" height="12.2" fill="#494949"/>
<rect x="324.2" y="410.5" width="208.9" height="12.2" fill="#373737"/>
<rect x="532.5" y="410.5" width="70.0" height="12.2" fill="#242424"/>
<rect x="46.4" y="422.1" width="81.6" height="12.2" fill="#242424"/>
<rect x="127.4" y="422.1" width="46.9" height="12.2" fill="#373737"/>
<rect x="173.7" y="422.1" width="12.2" height="12.2" fill="#494949"/>
<rect x="185.3" y="422.1" width="12.2" height="12.2" fill="#727272"/>
<rect x="196.9" y="422.1" width="12.2" height="12.2" fill="#9b9b9b"/>
<rect x="208.4" y="422.1" width="12.2" height="12.2" fill="#adadad"/>
<rect x="220.0" y="422.1" width="12.2" height="12.2" fill="#9b9b9b"/>
<rect x="231.6" y="422.1" width="12.2" height="12.2" fill="#adadad"/>
<rect x="243.2" y="422.1" width="12.2" height="12.2" fill="#bfbfbf"/>
<rect x="254.7" y="422.1" width="12.2" height="12.2" fill="#9b9b9b"/>
<rect x="266.3" y="422.1" width="12.2" height="12.2" fill="#373737"/>
<rect x="277.9" y="422.1" width="12.2" height="12.2" fill="#242424"/>
<rect x="289.5" y="422.1" width="23.8" height="12.2" fill="#373737"/>
<rect x="312.6" y="422.1" width="12.2" height="12.2" fill="#494949"/>
<rect x="324.2" y="422.1" width="139.5" height="12.2" fill="#2e2e2e"/>
<rect x="463.1" y="422.1" width="23.8" height="12.2" fill="#373737"/>
<rect x="486.2" y="422.1" width="116.3" height="12.2" fill="#242424"/>
<rect x="46.4" y="433.6" width="81.6" height="12.2" fill="#242424"/>
<rect x="127.4" y="433.6" width="35.3" height="12.2" fill="#373737"/>
<rect x="162.1" y="433.6" width="23.8" height="12.2" fill="#494949"/>
<rect x="185.3" y="433.6" width="12.2" height="12.2" fill="#727272"/>
<rect x="196.9" y="433.6" width="12.2" height="12.2" fill="#898989"/>
<rect x="208.4" y="433.6" width="12.2" height="12.2" fill="#9b9b9b"/>
<rect x="220.0" y="433.6" width="12.2" height="12.2" fill="#adadad"/>
<rect x="231.6" y="433.6" width="12.2" height="12.2" fill="#bfbfbf"/>
<rect x="243.2" y="433.6" width="12.2" height="12.2" fill="#9b9b9b"/>
<rect x="254.7" y="433.6" width="12.2" height="12.2" fill="#5b5b5b"/>
<rect x="266.3" y="433.6" width="46.9" height="12.2" fill="#373737"/>
<rect x="312.6" y="433.6" width="12.2" height="12.2" fill="#494949"/>
<rect x="324.2" y="433.6" width="139.5" height="12.2" fill="#2e2e2e"/>
<rect x="463.1" y="433.6" width="23.8" height="12.2" fill="#373737"/>
<rect x="486.2" y="433.6" width="116.3" height="12.2" fill="#242424"/>
<rect x="46.4" y="445.2" width="104.8" height="12.2" fill="#242424"/>
<rect x="150.6" y="445.2" width="12.2" height="12.2" fill="#494949"/>
<rect x="162.1" y="445.2" width="23.8" height="12.2" fill="#5b5b5b"/>
<rect x="185.3" y="445.2" width="46.9" height="12.2" fill="#727272"/>
<rect x="231.6" y="445.2" width="12.2" height="12.2" fill="#5b5b5b"/>
<rect x="243.2" y="445.2" width="12.2" height="12.2" fill="#373737"/>
<rect x="254.7" y="445.2" width="12.2" height="12.2" fill="#242424"/>
<rect x="266.3" y="445.2" width="12.2" height="12.2" fill="#494949"/>
<rect x="277.9" y="445.2" width="23.8" height="12.2" fill="#242424"/>
<rect x="301.1" y="445.2" width="12.2" height="12.2" fill="#373737"/>
<rect x="312.6" y="445.2" width="12.2" height="12.2" fill="#494949"/>
<rect x="324.2" y="445.2" width="139.5" height="12.2" fill="#2e2e2e"/>
<rect x="463.1" y="445.2" width="139.5" height="12.2" fill="#242424"/>
<rect x="46.4" y="456.8" width="104.8" height="12.2" fill="#242424"/>
<rect x="150.6" y="456.8" width="12.2" height="12.2" fill="#373737"/>
<rect x="162.1" y="456.8" width="12.2" height="12.2" fill="#494949"/>
<rect x="173.7" y="456.8" width="12.2" height="12.2" fill="#5b5b5b"/>
<rect x="185.3" y="456.8" width="23.8" height="12.2" fill="#727272"/>
<rect x="208.4" y="456.8" width="12.2" height="12.2" fill="#898989"/>
<rect x="220.0" y="456.8" width="12.2" height="12.2" fill="#727272"/>
<rect x="231.6" y="456.8" width="23.8" height="12.2" fill="#242424"/>
<rect x="254.7" y="456.8" width="12.2" height="12.2" fill="#adadad"/>
<rect x="266.3" y="456.8" width="12.2" height="12.2" fill="#373737"/>
<rect x="277.9" y="456.8" width="23.8" height="12.2" fill="#242424"/>
<rect x="301.1" y="456.8" width="12.2" height="12.2" fill="#494949"/>
<rect x="312.6" y="456.8" width="12.2" height="12.2" fill="#373737"/>
<rect x="324.2" y="456.8" width="139.5" height="12.2" fill="#2e2e2e"/>
<rect x="463.1" y="456.8" width="139.5" height="12.2" fill="#242424"/>
<rect x="46.4" y="468.3" width="104.8" height="12.2" fill="#242424"/>
<rect x="150.6" y="468.3" width="23.8" height="12.2" fill="#373737"/>
<rect x="173.7" y="468.3" width="23.8" height="12.2" fill="#494949"/>
<rect x="196.9" y="468.3" width="12.2" height="12.2" fill="#adadad"/>
<rect x="208.4" y="468.3" width="12.2" height="12.2" fill="#bfbfbf"/>
<rect x="220.0" y="468.3" width="12.2" height="12.2" fill="#898989"/>
<rect x="231.6" y="468.3" width="23.8" height="12.2" fill="#242424"/>
<rect x="254.7" y="468.3" width="23.8" height="12.2" fill="#373737"/>
<rect x="277.9" y="468.3" width="12.2" height="12.2" fill="#242424"/>
<rect x="289.5" y="468.3" width="12.2" height="12.2" fill="#373737"/>
<rect x="301.1" y="468.3" width="12.2" height="12.2" fill="#494949"/>
<rect x="312.6" y="468.3" width="58.5" height="12.2" fill="#242424"/>
<rect x="370.5" y="468.3" width="70.0" height="12.2" fill="#2e2e2e"/>
<rect x="439.9" y="468.3" width="162.6" height="12.2" fill="#242424"/>
<rect x="46.4" y="479.9" width="70.0" height="12.2" fill="#242424"/>
<rect x="115.9" y="479.9" width="70.0" height="12.2" fill="#373737"/>
<rect x="185.3" y="479.9" width="12.2" height="12.2" fill="#242424"/>
<rect x="196.9" y="479.9" width="12.2" height="12.2" fill="#494949"/>
<rect x="208.4" y="479.9" width="12.2" height="12.2" fill="#bfbfbf"/>
<rect x="220.0" y="479.9" width="12.2" height="12.2" fill="#898989"/>
<rect x="231.6" y="479.9" width="35.3" height="12.2" fill="#242424"/>
<rect x="266.3" y="479.9" width="12.2" height="12.2" fill="#373737"/>
<rect x="277.9" y="479.9" width="12.2" height="12.2" fill="#242424"/>
<rect x="289.5" y="479.9" width="12.2" height="12.2" fill="#494949"/>
<rect x="301.1" y="479.9" width="12.2" height="12.2" fill="#373737"/>
<rect x="312.6" y="479.9" width="58.5" height="12.2" fill="#242424"/>
<rect x="370.5" y="479.9" width="70.0" height="12.2" fill="#2e2e2e"/>
<rect x="439.9" y="479.9" width="162.6" height="12.2" fill="#242424"/>
<rect x="46.4" y="491.4" width="93.2" height="12.2" fill="#373737"/>
<rect x="139.0" y="491.4" width="12.2" height="12.2" fill="#242424"/>
<rect x="150.6" y="491.4" width="35.3" height="12.2" fill="#373737"/>
<rect x="185.3" y="491.4" width="23.8" height="12.2" fill="#242424"/>
<rect x="208.4" y="491.4" width="12.2" height="12.2" fill="#5b5b5b"/>
<rect x="220.0" y="491.4" width="12.2" height="12.2" fill="#bfbfbf"/>
<rect x="231.6" y="491.4" width="46.9" height="12.2" fill="#242424"/>
<rect x="277.9" y="491.4" width="12.2" height="12.2" fill="#373737"/>
<rect x="289.5" y="491.4" width="12.2" height="12.2" fill="#494949"/>
<rect x="301.1" y="491.4" width="70.0" height="12.2" fill="#242424"/>
<rect x="370.5" y="491.4" width="23.8" height="12.2" fill="#373737"/>
<rect x="393.6" y="491.4" width="208.9" height="12.2" fill="#242424"/>
<rect x="46.4" y="503.0" width="104.8" height="12.2" fill="#373737"/>
<rect x="150.6" y="503.0" width="12.2" height="12.2" fill="#494949"/>
<rect x="162.1" y="503.0" width="23.8" height="12.2" fill="#373737"/>
<rect x="185.3" y="503.0" width="23.8" height="12.2" fill="#242424"/>
<rect x="208.4" y="503.0" width="12.2" height="12.2" fill="#373737"/>
<rect x="220.0" y="503.0" width="12.2" height="12.2" fill="#bfbfbf"/>
<rect x="231.6" y="503.0" width="35.3" height="12.2" fill="#242424"/>
<rect x="266.3" y="503.0" width="12.2" height="12.2" fill="#373737"/>
<rect x="277.9" y="503.0" width="12.2" height="12.2" fill="#494949"/>
<rect x="289.5" y="503.0" width="12.2" height="12.2" fill="#373737"/>
<rect x="301.1" y="503.0" width="70.0" height="12.2" fill="#242424"/>
<rect x="370.5" y="503.0" width="23.8" height="12.2" fill="#373737"/>
<rect x="393.6" y="503.0" width="208.9" height="12.2" fill="#242424"/>
<rect x="46.4" y="514.6" width="104.8" height="12.2" fill="#373737"/>
<rect x="150.6" y="514.6" width="12.2" height="12.2" fill="#5b5b5b"/>
<rect x="162.1" y="514.6" width="12.2" height="12.2" fill="#adadad"/>
<rect x="173.7" y="514.6" width="12.2" height="12.2" fill="#494949"/>
<rect x="185.3" y="514.6" width="23.8" height="12.2" fill="#727272"/>
<rect x="208.4" y="514.6" width="23.8" height="12.2" fill="#373737"/>
<rect x="231.6" y="514.6" width="35.3" height="12.2" fill="#242424"/>
<rect x="266.3" y="514.6" width="12.2" height="12.2" fill="#373737"/>
<rect x="277.9" y="514.6" width="12.2" height="12.2" fill="#494949"/>
<rect x="289.5" y="514.6" width="313.1" height="12.2" fill="#242424"/>
<rect x="46.4" y="526.1" width="93.2" height="12.2" fill="#373737"/>
<rect x="139.0" y="526.1" width="12.2" height="12.2" fill="#494949"/>
<rect x="150.6" y="526.1" width="12.2" height="12.2" fill="#727272"/>
<rect x="162.1" y="526.1" width="12.2" height="12.2" fill="#898989"/>
<rect x="173.7" y="526.1" width="12.2" height="12.2" fill="#5b5b5b"/>
<rect x="185.3" y="526.1" width="12.2" height="12.2" fill="#adadad"/>
<rect x="196.9" y="526.1" width="12.2" height="12.2" fill="#d1d1d1"/>
<rect x="208.4" y="526.1" width="12.2" height="12.2" fill="#adadad"/>
<rect x="220.0" y="526.1" width="12.2" height="12.2" fill="#373737"/>
<rect x="231.6" y="526.1" width="35.3" height="12.2" fill="#242424"/>
<rect x="266.3" y="526.1" width="23.8" height="12.2" fill="#373737"/>
<rect x="289.5" y="526.1" width="313.1" height="12.2" fill="#242424"/>
<rect x="46.4" y="537.7" width="93.2" height="12.2" fill="#373737"/>
<rect x="139.0" y="537.7" width="12.2" height="12.2" fill="#494949"/>
<rect x="150.6" y="537.7" width="12.2" height="12.2" fill="#727272"/>
<rect x="162.1" y="537.7" width="12.2" height="12.2" fill="#898989"/>
<rect x="173.7" y="537.7" width="12.2" height="12.2" fill="#5b5b5b"/>
<rect x="185.3" y="537.7" width="12.2" height="12.2" fill="#adadad"/>
<rect x="196.9" y="537.7" width="12.2" height="12.2" fill="#d1d1d1"/>
<rect x="208.4" y="537.7" width="12.2" height="12.2" fill="#adadad"/>
<rect x="220.0" y="537.7" width="12.2" height="12.2" fill="#373737"/>
<rect x="231.6" y="537.7" width="35.3" height="12.2" fill="#242424"/>
<rect x="266.3" y="537.7" width="23.8" height="12.2" fill="#373737"/>
<rect x="289.5" y="537.7" width="313.1" height="12.2" fill="#242424"/>
<rect x="46.4" y="549.3" width="93.2" height="12.2" fill="#373737"/>
<rect x="139.0" y="549.3" width="12.2" height="12.2" fill="#494949"/>
<rect x="150.6" y="549.3" width="12.2" height="12.2" fill="#727272"/>
<rect x="162.1" y="549.3" width="12.2" height="12.2" fill="#898989"/>
<rect x="173.7" y="549.3" width="12.2" height="12.2" fill="#5b5b5b"/>
<rect x="185.3" y="549.3" width="12.2" height="12.2" fill="#adadad"/>
<rect x="196.9" y="549.3" width="12.2" height="12.2" fill="#d1d1d1"/>
<rect x="208.4" y="549.3" width="12.2" height="12.2" fill="#adadad"/>
<rect x="220.0" y="549.3" width="12.2" height="12.2" fill="#373737"/>
<rect x="231.6" y="549.3" width="35.3" height="12.2" fill="#242424"/>
<rect x="266.3" y="549.3" width="23.8" height="12.2" fill="#373737"/>
<rect x="289.5" y="549.3" width="313.1" height="12.2" fill="#242424"/>
<rect x="46.4" y="560.8" width="93.2" height="12.2" fill="#373737"/>
<rect x="139.0" y="560.8" width="12.2" height="12.2" fill="#494949"/>
<rect x="150.6" y="560.8" width="12.2" height="12.2" fill="#727272"/>
<rect x="162.1" y="560.8" width="12.2" height="12.2" fill="#898989"/>
<rect x="173.7" y="560.8" width="12.2" height="12.2" fill="#5b5b5b"/>
<rect x="185.3" y="560.8" width="12.2" height="12.2" fill="#adadad"/>
<rect x="196.9" y="560.8" width="12.2" height="12.2" fill="#d1d1d1"/>
<rect x="208.4" y="560.8" width="12.2" height="12.2" fill="#adadad"/>
<rect x="220.0" y="560.8" width="12.2" height="12.2" fill="#373737"/>
<rect x="231.6" y="560.8" width="35.3" height="12.2" fill="#242424"/>
<rect x="266.3" y="560.8" width="23.8" height="12.2" fill="#373737"/>
<rect x="289.5" y="560.8" width="313.1" height="12.2" fill="#242424"/>
<rect x="46.4" y="572.4" width="93.2" height="12.2" fill="#373737"/>
<rect x="139.0" y="572.4" width="12.2" height="12.2" fill="#494949"/>
<rect x="150.6" y="572.4" width="12.2" height="12.2" fill="#727272"/>
<rect x="162.1" y="572.4" width="12.2" height="12.2" fill="#898989"/>
<rect x="173.7" y="572.4" width="12.2" height="12.2" fill="#5b5b5b"/>
<rect x="185.3" y="572.4" width="12.2" height="12.2" fill="#adadad"/>
<rect x="196.9" y="572.4" width="12.2" height="12.2" fill="#d1d1d1"/>
<rect x="208.4" y="572.4" width="12.2" height="12.2" fill="#adadad"/>
<rect x="220.0" y="572.4" width="12.2" height="12.2" fill="#373737"/>
<rect x="231.6" y="572.4" width="35.3" height="12.2" fill="#242424"/>
<rect x="266.3" y="572.4" width="23.8" height="12.2" fill="#373737"/>
<rect x="289.5" y="572.4" width="313.1" height="12.2" fill="#242424"/>
</g>
<g filter="url(#bl2)">
<polygon points="662,382 684,382 684,389 662,388" fill="#fff" fill-opacity="0.01"/>
<polygon points="417,382 472,383 472,385 417,382" fill="#fff" fill-opacity="0.05"/>
<polygon points="644,388 693,389 693,394 643,392" fill="#000" fill-opacity="0.03"/>
<polygon points="515,386 530,387 530,392 515,391" fill="#000" fill-opacity="0.07"/>
<polygon points="530,387 619,391 618,399 530,392" fill="#fff" fill-opacity="0.08"/>
<polygon points="619,391 692,394 691,405 618,399" fill="#fff" fill-opacity="0.03"/>
<polygon points="484,388 508,390 507,393 484,390" fill="#fff" fill-opacity="0.05"/>
<polygon points="633,400 664,403 663,410 632,407" fill="#000" fill-opacity="0.03"/>
<polygon points="574,400 603,404 602,408 574,405" fill="#000" fill-opacity="0.08"/>
<polygon points="603,404 636,407 636,413 602,408" fill="#000" fill-opacity="0.06"/>
<polygon points="453,388 473,391 473,393 453,389" fill="#fff" fill-opacity="0.10"/>
<polygon points="473,391 534,399 533,403 473,393" fill="#000" fill-opacity="0.05"/>
<polygon points="534,399 550,401 549,406 533,403" fill="#fff" fill-opacity="0.04"/>
<polygon points="550,401 578,405 577,410 549,406" fill="#fff" fill-opacity="0.04"/>
<polygon points="518,402 579,413 578,418 518,405" fill="#fff" fill-opacity="0.08"/>
<polygon points="455,392 505,402 505,404 455,393" fill="#000" fill-opacity="0.07"/>
<polygon points="565,415 599,422 598,425 565,417" fill="#fff" fill-opacity="0.08"/>
<polygon points="599,422 628,428 627,432 598,425" fill="#000" fill-opacity="0.05"/>
<polygon points="593,424 628,432 626,438 592,430" fill="#fff" fill-opacity="0.04"/>
<polygon points="628,432 658,439 656,446 626,438" fill="#000" fill-opacity="0.03"/>
<polygon points="470,398 486,402 485,405 469,400" fill="#fff" fill-opacity="0.03"/>
<polygon points="486,402 561,422 559,427 485,405" fill="#fff" fill-opacity="0.04"/>
<polygon points="561,422 621,437 619,444 559,427" fill="#000" fill-opacity="0.08"/>
<polygon points="592,436 672,460 670,466 591,440" fill="#000" fill-opacity="0.06"/>
<polygon points="430,389 490,408 489,412 429,390" fill="#000" fill-opacity="0.10"/>
<polygon points="438,393 486,411 485,413 438,394" fill="#000" fill-opacity="0.04"/>
<polygon points="486,411 557,436 555,441 485,413" fill="#fff" fill-opacity="0.09"/>
<polygon points="557,436 581,445 579,450 555,441" fill="#fff" fill-opacity="0.08"/>
<polygon points="568,446 603,460 601,464 566,449" fill="#000" fill-opacity="0.08"/>
<polygon points="524,431 586,458 583,465 522,436" fill="#fff" fill-opacity="0.06"/>
<polygon points="433,394 509,430 508,432 432,394" fill="#000" fill-opacity="0.03"/>
<polygon points="509,430 536,443 534,445 508,432" fill="#000" fill-opacity="0.06"/>
<polygon points="616,480 646,495 644,500 614,484" fill="#fff" fill-opacity="0.02"/>
<polygon points="646,495 685,513 683,519 644,500" fill="#fff" fill-opacity="0.00"/>
<polygon points="485,421 559,457 556,463 484,423" fill="#fff" fill-opacity="0.10"/>
<polygon points="587,471 660,508 655,517 584,478" fill="#fff" fill-opacity="0.05"/>
<polygon points="434,396 448,404 447,405 433,397" fill="#000" fill-opacity="0.10"/>
<polygon points="448,404 525,446 523,449 447,405" fill="#fff" fill-opacity="0.09"/>
<polygon points="571,471 597,485 594,490 569,475" fill="#fff" fill-opacity="0.02"/>
<polygon points="517,446 564,472 562,475 516,447" fill="#000" fill-opacity="0.03"/>
<polygon points="438,400 491,432 489,435 437,401" fill="#fff" fill-opacity="0.07"/>
<polygon points="435,400 495,439 493,442 434,400" fill="#000" fill-opacity="0.04"/>
<polygon points="529,461 543,469 540,474 527,465" fill="#000" fill-opacity="0.08"/>
<polygon points="570,487 625,522 620,529 566,492" fill="#000" fill-opacity="0.05"/>
<polygon points="625,522 671,552 665,561 620,529" fill="#000" fill-opacity="0.01"/>
<polygon points="433,400 461,419 460,421 433,401" fill="#fff" fill-opacity="0.05"/>
<polygon points="461,419 497,444 495,447 460,421" fill="#fff" fill-opacity="0.10"/>
<polygon points="481,437 530,473 529,475 480,438" fill="#000" fill-opacity="0.07"/>
<polygon points="574,505 608,531 606,534 572,508" fill="#000" fill-opacity="0.04"/>
<polygon points="491,446 561,500 556,506 488,450" fill="#fff" fill-opacity="0.11"/>
<polygon points="416,389 458,424 457,425 416,389" fill="#fff" fill-opacity="0.08"/>
<polygon points="458,424 495,455 494,457 457,425" fill="#fff" fill-opacity="0.07"/>
<polygon points="472,438 526,485 523,489 470,440" fill="#fff" fill-opacity="0.11"/>
<polygon points="589,540 603,552 597,558 584,546" fill="#fff" fill-opacity="0.02"/>
<polygon points="603,552 649,592 642,600 597,558" fill="#fff" fill-opacity="0.00"/>
<polygon points="433,406 448,419 446,421 432,406" fill="#000" fill-opacity="0.08"/>
<polygon points="448,419 501,469 498,472 446,421" fill="#fff" fill-opacity="0.05"/>
<polygon points="501,469 556,520 552,526 498,472" fill="#000" fill-opacity="0.11"/>
<polygon points="420,395 472,447 470,449 420,395" fill="#fff" fill-opacity="0.08"/>
<polygon points="472,447 487,461 484,464 470,449" fill="#000" fill-opacity="0.09"/>
<polygon points="487,461 513,487 509,490 484,464" fill="#fff" fill-opacity="0.09"/>
<polygon points="513,487 543,517 538,521 509,490" fill="#000" fill-opacity="0.08"/>
<polygon points="432,408 455,433 453,435 431,409" fill="#fff" fill-opacity="0.06"/>
<polygon points="455,433 486,465 482,469 453,435" fill="#fff" fill-opacity="0.08"/>
<polygon points="451,433 465,449 463,451 449,434" fill="#000" fill-opacity="0.10"/>
<polygon points="496,485 538,533 532,537 492,488" fill="#fff" fill-opacity="0.09"/>
<polygon points="573,573 603,607 594,614 566,579" fill="#000" fill-opacity="0.01"/>
<polygon points="416,394 434,418 433,419 415,394" fill="#fff" fill-opacity="0.11"/>
<polygon points="434,418 446,434 444,434 433,419" fill="#fff" fill-opacity="0.08"/>
<polygon points="446,434 489,492 487,494 444,434" fill="#fff" fill-opacity="0.07"/>
<polygon points="525,539 535,553 531,557 521,542" fill="#fff" fill-opacity="0.03"/>
<polygon points="555,580 590,627 584,632 550,583" fill="#fff" fill-opacity="0.01"/>
<polygon points="451,444 481,486 476,488 448,446" fill="#fff" fill-opacity="0.11"/>
<polygon points="481,486 524,547 517,551 476,488" fill="#fff" fill-opacity="0.07"/>
<polygon points="545,576 582,628 572,635 537,581" fill="#fff" fill-opacity="0.02"/>
<polygon points="540,585 551,603 543,608 532,590" fill="#000" fill-opacity="0.01"/>
<polygon points="418,401 461,473 458,475 418,401" fill="#000" fill-opacity="0.05"/>
<polygon points="504,544 524,577 516,581 498,547" fill="#fff" fill-opacity="0.04"/>
<polygon points="417,400 450,460 449,461 417,400" fill="#fff" fill-opacity="0.07"/>
<polygon points="458,474 494,540 492,541 456,475" fill="#000" fill-opacity="0.06"/>
<polygon points="515,577 533,610 529,612 512,579" fill="#fff" fill-opacity="0.03"/>
<polygon points="533,610 549,640 545,642 529,612" fill="#000" fill-opacity="0.00"/>
<polygon points="413,393 425,415 424,416 412,393" fill="#000" fill-opacity="0.09"/>
<polygon points="425,415 438,441 436,442 424,416" fill="#000" fill-opacity="0.08"/>
<polygon points="438,441 448,460 446,461 436,442" fill="#fff" fill-opacity="0.04"/>
<polygon points="448,460 470,500 465,502 446,461" fill="#000" fill-opacity="0.07"/>
<polygon points="529,611 550,650 540,655 520,615" fill="#fff" fill-opacity="0.00"/>
<polygon points="433,436 443,457 442,457 432,436" fill="#fff" fill-opacity="0.09"/>
<polygon points="423,416 449,473 448,473 422,417" fill="#fff" fill-opacity="0.05"/>
<polygon points="456,493 488,564 481,567 452,495" fill="#fff" fill-opacity="0.04"/>
<polygon points="488,564 495,580 487,583 481,567" fill="#000" fill-opacity="0.06"/>
<polygon points="495,580 521,638 511,642 487,583" fill="#000" fill-opacity="0.04"/>
<polygon points="412,396 433,446 431,447 412,396" fill="#fff" fill-opacity="0.06"/>
<polygon points="433,446 456,504 452,506 431,447" fill="#000" fill-opacity="0.04"/>
<polygon points="488,585 507,632 500,635 482,587" fill="#000" fill-opacity="0.04"/>
<polygon points="470,553 483,589 478,591 465,554" fill="#000" fill-opacity="0.07"/>
<polygon points="417,411 434,462 433,463 416,411" fill="#fff" fill-opacity="0.06"/>
<polygon points="434,462 445,493 443,494 433,463" fill="#000" fill-opacity="0.11"/>
<polygon points="413,400 425,437 423,437 412,400" fill="#000" fill-opacity="0.10"/>
<polygon points="425,437 438,480 436,480 423,437" fill="#fff" fill-opacity="0.04"/>
<polygon points="481,614 497,662 491,663 476,615" fill="#fff" fill-opacity="0.02"/>
<polygon points="451,531 457,549 452,550 447,532" fill="#000" fill-opacity="0.05"/>
<polygon points="480,628 500,693 491,696 474,630" fill="#000" fill-opacity="0.01"/>
<polygon points="460,581 469,612 464,613 457,582" fill="#000" fill-opacity="0.04"/>
<polygon points="415,415 420,436 419,436 414,415" fill="#000" fill-opacity="0.05"/>
<polygon points="436,499 457,585 453,586 433,499" fill="#fff" fill-opacity="0.09"/>
<polygon points="468,628 481,679 474,680 463,629" fill="#fff" fill-opacity="0.01"/>
<polygon points="412,407 432,491 428,492 412,407" fill="#000" fill-opacity="0.05"/>
<polygon points="432,491 445,550 439,551 428,492" fill="#fff" fill-opacity="0.09"/>
<polygon points="413,412 422,459 420,459 412,412" fill="#fff" fill-opacity="0.09"/>
<polygon points="436,535 450,608 446,609 433,536" fill="#fff" fill-opacity="0.05"/>
<polygon points="450,608 454,626 449,627 446,609" fill="#000" fill-opacity="0.02"/>
<polygon points="410,398 425,484 422,485 409,398" fill="#fff" fill-opacity="0.09"/>
<polygon points="425,484 440,572 435,573 422,485" fill="#fff" fill-opacity="0.09"/>
<polygon points="440,572 443,590 438,591 435,573" fill="#000" fill-opacity="0.03"/>
<polygon points="443,590 450,634 444,635 438,591" fill="#fff" fill-opacity="0.02"/>
<polygon points="423,489 425,507 422,507 420,489" fill="#000" fill-opacity="0.04"/>
<polygon points="413,428 417,466 416,466 412,429" fill="#000" fill-opacity="0.09"/>
<polygon points="417,466 427,545 424,546 416,466" fill="#fff" fill-opacity="0.04"/>
<polygon points="427,545 435,612 431,612 424,546" fill="#fff" fill-opacity="0.03"/>
<polygon points="435,612 439,640 434,641 431,612" fill="#fff" fill-opacity="0.03"/>
<polygon points="439,640 447,708 441,709 434,641" fill="#fff" fill-opacity="0.00"/>
<polygon points="408,392 412,431 410,431 407,392" fill="#fff" fill-opacity="0.10"/>
<polygon points="416,470 422,524 416,524 413,471" fill="#fff" fill-opacity="0.05"/>
<polygon points="422,524 424,542 417,542 416,524" fill="#fff" fill-opacity="0.04"/>
<polygon points="424,542 428,580 420,581 417,542" fill="#fff" fill-opacity="0.04"/>
<polygon points="428,580 435,648 424,649 420,581" fill="#000" fill-opacity="0.05"/>
<polygon points="435,648 437,674 426,675 424,649" fill="#fff" fill-opacity="0.00"/>
<polygon points="412,467 418,555 415,555 411,467" fill="#000" fill-opacity="0.10"/>
<polygon points="424,651 429,731 422,731 419,651" fill="#000" fill-opacity="0.00"/>
<polygon points="411,469 412,502 410,502 409,469" fill="#fff" fill-opacity="0.07"/>
<polygon points="416,596 419,663 413,663 412,596" fill="#fff" fill-opacity="0.03"/>
<polygon points="407,418 407,456 404,456 405,418" fill="#000" fill-opacity="0.04"/>
<polygon points="407,456 407,486 403,485 404,456" fill="#000" fill-opacity="0.05"/>
<polygon points="407,501 407,545 401,545 402,500" fill="#fff" fill-opacity="0.08"/>
<polygon points="403,495 401,538 395,537 398,495" fill="#000" fill-opacity="0.07"/>
<polygon points="401,538 400,570 392,570 395,537" fill="#fff" fill-opacity="0.04"/>
<polygon points="400,570 398,624 388,623 392,570" fill="#fff" fill-opacity="0.03"/>
<polygon points="405,407 399,481 397,481 404,407" fill="#000" fill-opacity="0.05"/>
<polygon points="399,481 394,550 390,549 397,481" fill="#fff" fill-opacity="0.09"/>
<polygon points="387,628 383,685 377,684 382,627" fill="#000" fill-opacity="0.02"/>
<polygon points="400,451 391,538 388,538 399,450" fill="#000" fill-opacity="0.07"/>
<polygon points="391,538 385,600 381,600 388,538" fill="#000" fill-opacity="0.10"/>
<polygon points="383,619 381,642 376,642 379,618" fill="#fff" fill-opacity="0.02"/>
<polygon points="381,642 372,731 365,731 376,642" fill="#fff" fill-opacity="0.00"/>
<polygon points="403,417 398,453 396,452 401,416" fill="#000" fill-opacity="0.09"/>
<polygon points="398,453 388,540 382,540 396,452" fill="#000" fill-opacity="0.08"/>
<polygon points="388,540 379,615 370,614 382,540" fill="#fff" fill-opacity="0.04"/>
<polygon points="379,615 369,699 357,698 370,614" fill="#fff" fill-opacity="0.01"/>
<polygon points="403,406 396,448 395,447 403,406" fill="#fff" fill-opacity="0.04"/>
<polygon points="396,448 384,529 381,528 395,447" fill="#fff" fill-opacity="0.05"/>
<polygon points="371,609 363,660 358,659 367,608" fill="#000" fill-opacity="0.02"/>
<polygon points="401,416 389,484 386,484 400,416" fill="#fff" fill-opacity="0.05"/>
<polygon points="389,484 384,508 381,507 386,484" fill="#fff" fill-opacity="0.09"/>
<polygon points="378,546 375,561 370,560 373,545" fill="#000" fill-opacity="0.03"/>
<polygon points="402,403 389,470 385,469 402,403" fill="#000" fill-opacity="0.03"/>
<polygon points="389,470 377,527 371,525 385,469" fill="#fff" fill-opacity="0.06"/>
<polygon points="356,631 347,672 336,669 346,629" fill="#000" fill-opacity="0.01"/>
<polygon points="403,396 398,419 396,418 403,396" fill="#fff" fill-opacity="0.07"/>
<polygon points="394,434 383,478 380,477 392,434" fill="#fff" fill-opacity="0.11"/>
<polygon points="349,614 342,644 333,642 342,612" fill="#000" fill-opacity="0.01"/>
<polygon points="401,402 384,463 381,462 400,402" fill="#000" fill-opacity="0.10"/>
<polygon points="403,392 385,451 383,451 403,392" fill="#fff" fill-opacity="0.08"/>
<polygon points="385,451 359,532 355,531 383,451" fill="#fff" fill-opacity="0.11"/>
<polygon points="359,532 338,599 332,597 355,531" fill="#000" fill-opacity="0.10"/>
<polygon points="398,406 369,490 365,489 398,405" fill="#000" fill-opacity="0.09"/>
<polygon points="342,568 315,644 306,640 335,566" fill="#fff" fill-opacity="0.05"/>
<polygon points="393,416 366,486 363,485 392,416" fill="#fff" fill-opacity="0.04"/>
<polygon points="366,486 360,502 356,501 363,485" fill="#000" fill-opacity="0.10"/>
<polygon points="360,502 351,525 347,523 356,501" fill="#fff" fill-opacity="0.10"/>
<polygon points="376,454 365,480 362,479 374,453" fill="#000" fill-opacity="0.07"/>
<polygon points="365,480 355,503 352,501 362,479" fill="#000" fill-opacity="0.08"/>
<polygon points="355,503 339,541 334,539 352,501" fill="#000" fill-opacity="0.09"/>
<polygon points="339,541 312,606 305,603 334,539" fill="#fff" fill-opacity="0.05"/>
<polygon points="337,532 302,610 297,607 334,531" fill="#000" fill-opacity="0.07"/>
<polygon points="302,610 281,654 276,651 297,607" fill="#fff" fill-opacity="0.01"/>
<polygon points="401,394 365,468 363,467 400,394" fill="#fff" fill-opacity="0.06"/>
<polygon points="295,610 286,630 280,627 290,607" fill="#fff" fill-opacity="0.01"/>
<polygon points="327,535 286,614 280,611 323,533" fill="#000" fill-opacity="0.07"/>
<polygon points="396,401 362,463 361,462 396,401" fill="#fff" fill-opacity="0.08"/>
<polygon points="359,464 347,486 345,485 358,464" fill="#fff" fill-opacity="0.06"/>
<polygon points="347,486 310,549 307,548 345,485" fill="#fff" fill-opacity="0.04"/>
<polygon points="351,474 328,514 324,512 349,473" fill="#fff" fill-opacity="0.10"/>
<polygon points="278,597 269,612 263,608 272,593" fill="#fff" fill-opacity="0.02"/>
<polygon points="364,449 340,486 336,484 361,447" fill="#000" fill-opacity="0.05"/>
<polygon points="340,486 317,522 312,519 336,484" fill="#fff" fill-opacity="0.06"/>
<polygon points="272,595 241,642 231,635 263,589" fill="#fff" fill-opacity="0.01"/>
<polygon points="394,400 344,472 343,471 394,400" fill="#fff" fill-opacity="0.11"/>
<polygon points="320,507 296,542 294,540 318,505" fill="#000" fill-opacity="0.08"/>
<polygon points="377,424 332,487 329,485 376,423" fill="#fff" fill-opacity="0.10"/>
<polygon points="354,452 304,520 299,516 351,451" fill="#000" fill-opacity="0.07"/>
<polygon points="304,520 261,577 254,572 299,516" fill="#fff" fill-opacity="0.05"/>
<polygon points="261,577 247,596 239,590 254,572" fill="#000" fill-opacity="0.01"/>
<polygon points="343,461 311,500 309,498 341,460" fill="#fff" fill-opacity="0.06"/>
<polygon points="389,402 339,462 337,461 389,402" fill="#fff" fill-opacity="0.07"/>
<polygon points="339,462 282,530 279,527 337,461" fill="#000" fill-opacity="0.05"/>
<polygon points="260,557 223,601 217,597 256,553" fill="#fff" fill-opacity="0.03"/>
<polygon points="396,394 348,448 347,446 395,394" fill="#fff" fill-opacity="0.10"/>
<polygon points="299,504 272,535 268,531 295,501" fill="#000" fill-opacity="0.08"/>
<polygon points="272,535 223,591 217,586 268,531" fill="#000" fill-opacity="0.03"/>
<polygon points="309,487 261,538 256,533 305,484" fill="#fff" fill-opacity="0.03"/>
<polygon points="261,538 224,579 217,572 256,533" fill="#fff" fill-opacity="0.02"/>
<polygon points="293,496 242,548 237,542 290,492" fill="#fff" fill-opacity="0.10"/>
<polygon points="362,424 315,468 313,466 361,423" fill="#000" fill-opacity="0.01"/>
<polygon points="315,468 274,508 271,505 313,466" fill="#000" fill-opacity="0.01"/>
<polygon points="274,508 215,563 211,559 271,505" fill="#000" fill-opacity="0.01"/>
<polygon points="395,392 355,429 354,427 395,392" fill="#fff" fill-opacity="0.01"/>
<polygon points="355,429 305,474 302,471 354,427" fill="#fff" fill-opacity="0.01"/>
<polygon points="274,495 210,551 203,543 270,490" fill="#fff" fill-opacity="0.02"/>
<polygon points="210,551 196,562 190,554 203,543" fill="#000" fill-opacity="0.00"/>
<polygon points="339,435 278,484 277,482 338,434" fill="#fff" fill-opacity="0.01"/>
<polygon points="238,515 196,549 193,546 237,513" fill="#000" fill-opacity="0.01"/>
<polygon points="359,418 337,436 335,434 359,417" fill="#fff" fill-opacity="0.01"/>
<polygon points="206,536 180,557 176,552 203,532" fill="#fff" fill-opacity="0.00"/>
<polygon points="347,425 312,451 310,448 346,423" fill="#fff" fill-opacity="0.02"/>
<polygon points="259,491 224,517 219,510 255,485" fill="#000" fill-opacity="0.01"/>
<polygon points="244,493 208,517 206,514 242,490" fill="#fff" fill-opacity="0.02"/>
<polygon points="208,517 191,529 189,525 206,514" fill="#fff" fill-opacity="0.00"/>
<polygon points="191,529 160,550 157,546 189,525" fill="#fff" fill-opacity="0.00"/>
<polygon points="294,456 272,471 270,468 293,453" fill="#fff" fill-opacity="0.01"/>
<polygon points="388,393 372,403 371,402 388,393" fill="#fff" fill-opacity="0.02"/>
<polygon points="372,403 346,420 345,418 371,402" fill="#fff" fill-opacity="0.02"/>
<polygon points="302,448 259,474 256,469 299,444" fill="#fff" fill-opacity="0.01"/>
<polygon points="259,474 244,484 241,478 256,469" fill="#000" fill-opacity="0.01"/>
<polygon points="201,511 169,531 163,523 197,503" fill="#000" fill-opacity="0.00"/>
<polygon points="376,399 306,440 304,436 375,398" fill="#fff" fill-opacity="0.03"/>
<polygon points="306,440 274,459 271,453 304,436" fill="#000" fill-opacity="0.01"/>
<polygon points="274,459 223,488 219,481 271,453" fill="#000" fill-opacity="0.01"/>
<polygon points="340,417 262,458 261,456 339,416" fill="#fff" fill-opacity="0.01"/>
<polygon points="262,458 196,493 194,490 261,456" fill="#000" fill-opacity="0.02"/>
<polygon points="389,391 362,404 362,403 388,390" fill="#000" fill-opacity="0.02"/>
<polygon points="176,491 104,525 102,520 175,487" fill="#fff" fill-opacity="0.00"/>
<polygon points="383,391 348,406 347,404 383,391" fill="#fff" fill-opacity="0.02"/>
<polygon points="249,447 172,479 169,471 247,442" fill="#000" fill-opacity="0.02"/>
<polygon points="384,390 318,415 317,412 384,389" fill="#fff" fill-opacity="0.02"/>
<polygon points="318,415 287,427 286,423 317,412" fill="#fff" fill-opacity="0.01"/>
<polygon points="167,472 124,488 121,480 165,465" fill="#fff" fill-opacity="0.00"/>
<polygon points="371,394 292,421 291,417 370,393" fill="#fff" fill-opacity="0.03"/>
<polygon points="292,421 241,439 239,433 291,417" fill="#000" fill-opacity="0.01"/>
<polygon points="182,459 117,481 114,472 180,451" fill="#000" fill-opacity="0.01"/>
<polygon points="396,385 376,391 376,390 396,385" fill="#000" fill-opacity="0.02"/>
<polygon points="376,391 353,398 352,396 376,390" fill="#fff" fill-opacity="0.02"/>
<polygon points="229,436 205,444 203,436 227,429" fill="#fff" fill-opacity="0.01"/>
<polygon points="205,444 186,450 183,441 203,436" fill="#fff" fill-opacity="0.01"/>
<polygon points="309,408 243,425 242,421 308,405" fill="#fff" fill-opacity="0.02"/>
<polygon points="243,425 196,438 194,432 242,421" fill="#000" fill-opacity="0.01"/>
<polygon points="377,389 309,405 308,402 377,388" fill="#000" fill-opacity="0.03"/>
<polygon points="328,393 307,396 307,393 327,391" fill="#000" fill-opacity="0.02"/>
<polygon points="307,396 231,407 230,402 307,393" fill="#fff" fill-opacity="0.02"/>
<polygon points="231,407 176,415 175,409 230,402" fill="#fff" fill-opacity="0.02"/>
<polygon points="176,415 150,419 149,412 175,409" fill="#000" fill-opacity="0.01"/>
<polygon points="150,419 117,424 116,415 149,412" fill="#fff" fill-opacity="0.00"/>
<polygon points="341,389 274,397 273,392 340,387" fill="#000" fill-opacity="0.01"/>
<polygon points="274,397 223,403 223,396 273,392" fill="#fff" fill-opacity="0.02"/>
<polygon points="166,410 78,420 76,408 165,401" fill="#fff" fill-opacity="0.00"/>
<polygon points="386,383 318,389 318,387 386,383" fill="#000" fill-opacity="0.03"/>
<polygon points="318,389 287,391 286,389 318,387" fill="#fff" fill-opacity="0.02"/>
<polygon points="193,399 171,400 170,396 193,395" fill="#fff" fill-opacity="0.01"/>
<polygon points="380,383 338,386 338,384 380,383" fill="#fff" fill-opacity="0.01"/>
<polygon points="338,386 304,388 304,386 338,384" fill="#fff" fill-opacity="0.02"/>
<polygon points="304,388 269,390 269,387 304,386" fill="#000" fill-opacity="0.02"/>
<polygon points="269,390 216,393 215,389 269,387" fill="#000" fill-opacity="0.02"/>
<polygon points="370,383 338,384 338,382 370,382" fill="#fff" fill-opacity="0.01"/>
<polygon points="264,387 227,388 227,382 263,382" fill="#000" fill-opacity="0.02"/>
<polygon points="302,382 248,382 248,379 302,380" fill="#000" fill-opacity="0.02"/>
<polygon points="248,382 159,382 159,378 248,379" fill="#000" fill-opacity="0.01"/>
<polygon points="159,382 133,382 133,378 159,378" fill="#000" fill-opacity="0.00"/>
<polygon points="377,381 345,381 345,378 377,380" fill="#fff" fill-opacity="0.01"/>
<polygon points="287,380 271,380 271,374 287,375" fill="#000" fill-opacity="0.01"/>
<polygon points="210,379 153,378 154,368 210,371" fill="#000" fill-opacity="0.01"/>
<polygon points="368,380 329,377 329,375 368,378" fill="#000" fill-opacity="0.01"/>
<polygon points="267,374 181,370 182,364 267,370" fill="#fff" fill-opacity="0.02"/>
<polygon points="181,370 105,366 105,357 182,364" fill="#000" fill-opacity="0.00"/>
<polygon points="391,380 359,378 359,377 391,380" fill="#000" fill-opacity="0.02"/>
<polygon points="270,371 208,366 209,363 271,368" fill="#000" fill-opacity="0.02"/>
<polygon points="145,361 127,359 127,355 146,356" fill="#000" fill-opacity="0.00"/>
<polygon points="340,375 322,373 323,371 340,373" fill="#fff" fill-opacity="0.02"/>
<polygon points="171,359 145,356 146,349 171,352" fill="#fff" fill-opacity="0.00"/>
<polygon points="145,356 64,349 65,338 146,349" fill="#fff" fill-opacity="0.00"/>
<polygon points="388,379 359,376 359,375 388,379" fill="#fff" fill-opacity="0.02"/>
<polygon points="359,376 332,372 332,371 359,375" fill="#fff" fill-opacity="0.02"/>
<polygon points="306,369 253,362 254,360 306,367" fill="#fff" fill-opacity="0.01"/>
<polygon points="253,362 193,355 193,351 254,360" fill="#fff" fill-opacity="0.01"/>
<polygon points="376,377 294,365 294,363 376,376" fill="#fff" fill-opacity="0.01"/>
<polygon points="156,346 128,341 129,335 157,340" fill="#000" fill-opacity="0.00"/>
<polygon points="219,350 193,346 194,339 220,344" fill="#fff" fill-opacity="0.01"/>
<polygon points="193,346 121,333 122,325 194,339" fill="#000" fill-opacity="0.01"/>
<polygon points="391,379 314,363 315,360 392,378" fill="#fff" fill-opacity="0.01"/>
<polygon points="314,363 299,360 300,357 315,360" fill="#fff" fill-opacity="0.01"/>
<polygon points="265,353 203,341 204,334 266,348" fill="#000" fill-opacity="0.01"/>
<polygon points="291,355 265,348 266,344 292,351" fill="#fff" fill-opacity="0.01"/>
<polygon points="394,378 333,362 333,360 394,378" fill="#fff" fill-opacity="0.01"/>
<polygon points="333,362 307,355 307,352 333,360" fill="#fff" fill-opacity="0.01"/>
<polygon points="249,339 209,328 211,323 250,335" fill="#000" fill-opacity="0.02"/>
<polygon points="299,350 281,344 281,342 300,348" fill="#000" fill-opacity="0.02"/>
<polygon points="396,378 353,365 354,363 396,378" fill="#000" fill-opacity="0.01"/>
<polygon points="353,365 328,357 329,354 354,363" fill="#000" fill-opacity="0.02"/>
<polygon points="328,357 282,343 284,337 329,354" fill="#fff" fill-opacity="0.03"/>
<polygon points="282,343 252,333 254,327 284,337" fill="#000" fill-opacity="0.02"/>
<polygon points="252,333 228,326 231,319 254,327" fill="#000" fill-opacity="0.02"/>
<polygon points="210,320 180,311 183,301 212,312" fill="#000" fill-opacity="0.00"/>
<polygon points="180,311 99,285 103,273 183,301" fill="#fff" fill-opacity="0.01"/>
<polygon points="382,372 346,358 346,357 382,372" fill="#000" fill-opacity="0.02"/>
<polygon points="346,358 308,344 309,342 346,357" fill="#000" fill-opacity="0.02"/>
<polygon points="308,344 262,326 263,323 309,342" fill="#fff" fill-opacity="0.01"/>
<polygon points="190,299 130,276 133,271 191,294" fill="#fff" fill-opacity="0.00"/>
<polygon points="264,324 224,307 226,301 266,319" fill="#fff" fill-opacity="0.02"/>
<polygon points="224,307 185,292 189,284 226,301" fill="#000" fill-opacity="0.01"/>
<polygon points="371,366 296,332 298,330 371,365" fill="#fff" fill-opacity="0.02"/>
<polygon points="229,302 202,290 204,285 231,298" fill="#fff" fill-opacity="0.01"/>
<polygon points="202,290 138,262 141,255 204,285" fill="#000" fill-opacity="0.01"/>
<polygon points="197,282 177,272 179,269 198,278" fill="#fff" fill-opacity="0.00"/>
<polygon points="377,367 318,338 320,335 377,366" fill="#fff" fill-opacity="0.02"/>
<polygon points="391,373 326,339 327,336 391,373" fill="#000" fill-opacity="0.02"/>
<polygon points="293,321 275,312 277,308 295,318" fill="#000" fill-opacity="0.02"/>
<polygon points="275,312 218,281 221,276 277,308" fill="#fff" fill-opacity="0.01"/>
<polygon points="218,281 174,258 177,251 221,276" fill="#000" fill-opacity="0.00"/>
<polygon points="174,258 151,246 155,239 177,251" fill="#fff" fill-opacity="0.00"/>
<polygon points="377,365 303,322 305,319 377,363" fill="#fff" fill-opacity="0.01"/>
<polygon points="202,265 181,253 185,245 206,258" fill="#fff" fill-opacity="0.01"/>
<polygon points="390,371 341,341 342,339 390,371" fill="#fff" fill-opacity="0.02"/>
<polygon points="341,341 305,319 307,316 342,339" fill="#fff" fill-opacity="0.02"/>
<polygon points="232,274 218,265 222,259 236,268" fill="#fff" fill-opacity="0.01"/>
<polygon points="196,252 130,211 136,202 201,245" fill="#fff" fill-opacity="0.00"/>
<polygon points="314,320 252,279 256,273 316,317" fill="#000" fill-opacity="0.03"/>
<polygon points="202,246 131,198 137,189 207,238" fill="#000" fill-opacity="0.00"/>
<polygon points="312,314 296,303 298,301 313,312" fill="#fff" fill-opacity="0.02"/>
<polygon points="227,253 165,208 168,204 229,249" fill="#fff" fill-opacity="0.01"/>
<polygon points="391,370 349,339 351,337 391,369" fill="#fff" fill-opacity="0.01"/>
<polygon points="349,339 319,316 321,314 351,337" fill="#fff" fill-opacity="0.01"/>
<polygon points="319,316 278,286 282,282 321,314" fill="#000" fill-opacity="0.02"/>
<polygon points="240,257 226,247 231,241 244,252" fill="#000" fill-opacity="0.01"/>
<polygon points="226,247 184,216 190,209 231,241" fill="#000" fill-opacity="0.01"/>
<polygon points="343,331 281,281 284,278 344,329" fill="#000" fill-opacity="0.02"/>
<polygon points="377,356 323,311 326,308 378,355" fill="#000" fill-opacity="0.02"/>
<polygon points="310,300 279,274 283,269 313,296" fill="#000" fill-opacity="0.03"/>
<polygon points="279,274 261,258 265,253 283,269" fill="#fff" fill-opacity="0.02"/>
<polygon points="261,258 243,243 248,237 265,253" fill="#fff" fill-opacity="0.01"/>
<polygon points="385,362 340,321 342,319 386,361" fill="#000" fill-opacity="0.01"/>
<polygon points="340,321 328,310 330,308 342,319" fill="#fff" fill-opacity="0.02"/>
<polygon points="328,310 270,258 274,254 330,308" fill="#fff" fill-opacity="0.01"/>
<polygon points="216,208 190,184 195,179 220,203" fill="#000" fill-opacity="0.00"/>
<polygon points="338,316 316,294 318,292 340,314" fill="#000" fill-opacity="0.03"/>
<polygon points="348,322 286,258 288,257 349,321" fill="#000" fill-opacity="0.02"/>
<polygon points="286,258 239,211 241,208 288,257" fill="#000" fill-opacity="0.01"/>
<polygon points="400,374 369,342 370,341 400,374" fill="#fff" fill-opacity="0.01"/>
<polygon points="226,192 184,148 188,144 229,189" fill="#fff" fill-opacity="0.00"/>
<polygon points="285,249 251,213 257,208 289,246" fill="#000" fill-opacity="0.02"/>
<polygon points="327,289 273,227 279,222 330,286" fill="#fff" fill-opacity="0.01"/>
<polygon points="246,195 217,162 225,155 253,189" fill="#000" fill-opacity="0.00"/>
<polygon points="354,315 320,273 322,271 355,314" fill="#fff" fill-opacity="0.01"/>
<polygon points="320,273 294,241 297,238 322,271" fill="#000" fill-opacity="0.02"/>
<polygon points="337,291 305,249 308,247 339,290" fill="#000" fill-opacity="0.02"/>
<polygon points="293,233 272,205 275,203 295,231" fill="#fff" fill-opacity="0.01"/>
<polygon points="390,360 378,343 379,342 391,359" fill="#000" fill-opacity="0.01"/>
<polygon points="271,198 243,159 246,157 274,196" fill="#000" fill-opacity="0.00"/>
<polygon points="388,355 354,307 355,306 388,354" fill="#fff" fill-opacity="0.01"/>
<polygon points="309,244 284,209 288,206 312,241" fill="#fff" fill-opacity="0.02"/>
<polygon points="397,368 383,346 384,346 398,368" fill="#fff" fill-opacity="0.07"/>
<polygon points="337,279 306,234 309,232 339,278" fill="#fff" fill-opacity="0.08"/>
<polygon points="306,234 261,167 266,164 309,232" fill="#000" fill-opacity="0.04"/>
<polygon points="377,336 366,319 368,318 379,335" fill="#fff" fill-opacity="0.10"/>
<polygon points="366,319 344,285 347,283 368,318" fill="#fff" fill-opacity="0.05"/>
<polygon points="318,245 283,191 289,187 322,242" fill="#fff" fill-opacity="0.03"/>
<polygon points="387,349 352,291 355,290 388,348" fill="#fff" fill-opacity="0.07"/>
<polygon points="322,242 298,203 304,199 327,239" fill="#fff" fill-opacity="0.09"/>
<polygon points="349,279 336,257 338,255 351,278" fill="#fff" fill-opacity="0.08"/>
<polygon points="300,191 287,169 291,167 303,189" fill="#fff" fill-opacity="0.03"/>
<polygon points="399,367 379,331 381,330 399,367" fill="#000" fill-opacity="0.07"/>
<polygon points="379,331 337,253 342,250 381,330" fill="#fff" fill-opacity="0.10"/>
<polygon points="386,339 377,321 378,320 387,339" fill="#000" fill-opacity="0.09"/>
<polygon points="342,250 320,207 323,205 344,249" fill="#000" fill-opacity="0.08"/>
<polygon points="320,207 300,166 304,164 323,205" fill="#fff" fill-opacity="0.02"/>
<polygon points="300,166 289,144 294,142 304,164" fill="#fff" fill-opacity="0.01"/>
<polygon points="394,355 386,339 388,338 395,355" fill="#fff" fill-opacity="0.10"/>
<polygon points="350,261 335,230 340,228 354,259" fill="#fff" fill-opacity="0.06"/>
<polygon points="335,230 299,153 306,150 340,228" fill="#fff" fill-opacity="0.03"/>
<polygon points="291,138 257,65 267,60 299,134" fill="#fff" fill-opacity="0.00"/>
<polygon points="325,193 301,139 307,137 329,191" fill="#000" fill-opacity="0.03"/>
<polygon points="301,139 292,117 298,115 307,137" fill="#000" fill-opacity="0.00"/>
<polygon points="346,232 331,196 338,193 351,230" fill="#fff" fill-opacity="0.05"/>
<polygon points="307,137 281,74 292,69 316,134" fill="#fff" fill-opacity="0.00"/>
<polygon points="398,356 378,303 381,303 398,356" fill="#fff" fill-opacity="0.07"/>
<polygon points="399,358 380,301 383,300 400,358" fill="#fff" fill-opacity="0.09"/>
<polygon points="333,157 310,88 319,85 340,155" fill="#fff" fill-opacity="0.02"/>
<polygon points="399,354 386,312 389,311 400,354" fill="#fff" fill-opacity="0.08"/>
<polygon points="367,246 346,175 355,173 373,244" fill="#000" fill-opacity="0.08"/>
<polygon points="401,357 391,316 392,316 401,357" fill="#000" fill-opacity="0.05"/>
<polygon points="391,316 374,250 376,249 392,316" fill="#fff" fill-opacity="0.11"/>
<polygon points="365,214 345,133 349,132 368,213" fill="#000" fill-opacity="0.06"/>
<polygon points="345,133 338,107 343,106 349,132" fill="#fff" fill-opacity="0.01"/>
<polygon points="386,291 374,241 379,240 389,291" fill="#fff" fill-opacity="0.05"/>
<polygon points="374,241 364,194 370,193 379,240" fill="#000" fill-opacity="0.05"/>
<polygon points="387,284 378,237 382,236 390,283" fill="#fff" fill-opacity="0.07"/>
<polygon points="404,367 402,351 402,351 404,367" fill="#fff" fill-opacity="0.07"/>
<polygon points="404,364 395,305 398,305 405,364" fill="#fff" fill-opacity="0.05"/>
<polygon points="373,163 359,74 370,73 381,162" fill="#000" fill-opacity="0.03"/>
<polygon points="377,128 368,55 380,54 386,127" fill="#000" fill-opacity="0.01"/>
<polygon points="399,286 395,241 401,241 403,285" fill="#000" fill-opacity="0.10"/>
<polygon points="395,241 390,175 398,174 401,241" fill="#fff" fill-opacity="0.06"/>
<polygon points="385,115 380,62 393,61 395,114" fill="#000" fill-opacity="0.00"/>
<polygon points="405,332 403,298 406,298 406,332" fill="#000" fill-opacity="0.07"/>
<polygon points="403,298 400,228 406,228 406,298" fill="#000" fill-opacity="0.04"/>
<polygon points="400,228 399,196 406,196 406,228" fill="#fff" fill-opacity="0.10"/>
<polygon points="399,196 395,109 405,109 406,196" fill="#fff" fill-opacity="0.06"/>
<polygon points="406,287 406,258 409,258 409,287" fill="#fff" fill-opacity="0.07"/>
<polygon points="405,136 405,73 413,73 412,136" fill="#000" fill-opacity="0.02"/>
<polygon points="407,355 408,321 410,322 408,355" fill="#000" fill-opacity="0.05"/>
<polygon points="409,261 411,200 417,200 413,261" fill="#fff" fill-opacity="0.06"/>
<polygon points="412,133 413,94 423,94 420,133" fill="#fff" fill-opacity="0.01"/>
<polygon points="408,358 412,294 414,295 409,358" fill="#000" fill-opacity="0.07"/>
<polygon points="415,238 417,196 422,196 418,238" fill="#fff" fill-opacity="0.07"/>
<polygon points="417,196 422,109 429,110 422,196" fill="#000" fill-opacity="0.08"/>
<polygon points="412,318 414,296 417,297 414,319" fill="#fff" fill-opacity="0.10"/>
<polygon points="417,260 419,234 424,235 421,260" fill="#fff" fill-opacity="0.08"/>
<polygon points="429,193 436,137 444,138 435,194" fill="#fff" fill-opacity="0.05"/>
<polygon points="424,272 434,206 437,207 426,272" fill="#000" fill-opacity="0.04"/>
<polygon points="434,206 440,163 445,163 437,207" fill="#fff" fill-opacity="0.05"/>
<polygon points="440,163 444,136 450,137 445,163" fill="#fff" fill-opacity="0.04"/>
<polygon points="411,360 421,301 424,302 412,360" fill="#fff" fill-opacity="0.06"/>
<polygon points="421,301 432,240 437,241 424,302" fill="#000" fill-opacity="0.04"/>
<polygon points="422,311 440,227 444,228 424,311" fill="#fff" fill-opacity="0.09"/>
<polygon points="451,176 465,112 471,114 456,177" fill="#fff" fill-opacity="0.02"/>
<polygon points="410,368 422,317 423,318 410,368" fill="#000" fill-opacity="0.07"/>
<polygon points="422,317 435,265 437,265 423,318" fill="#fff" fill-opacity="0.10"/>
<polygon points="445,222 451,199 454,200 448,222" fill="#fff" fill-opacity="0.04"/>
<polygon points="417,341 430,291 431,292 418,341" fill="#000" fill-opacity="0.07"/>
<polygon points="430,291 439,256 441,256 431,292" fill="#fff" fill-opacity="0.04"/>
<polygon points="435,278 440,260 443,260 438,279" fill="#000" fill-opacity="0.05"/>
<polygon points="439,275 458,211 463,212 442,276" fill="#000" fill-opacity="0.10"/>
<polygon points="476,152 491,101 499,104 482,154" fill="#fff" fill-opacity="0.01"/>
<polygon points="428,318 444,271 446,272 429,318" fill="#fff" fill-opacity="0.05"/>
<polygon points="444,271 452,245 455,246 446,272" fill="#000" fill-opacity="0.08"/>
<polygon points="454,248 461,229 466,231 459,250" fill="#000" fill-opacity="0.04"/>
<polygon points="461,229 467,212 473,214 466,231" fill="#000" fill-opacity="0.07"/>
<polygon points="467,212 478,181 485,184 473,214" fill="#000" fill-opacity="0.07"/>
<polygon points="478,181 500,118 509,121 485,184" fill="#000" fill-opacity="0.02"/>
<polygon points="452,267 473,213 476,214 454,268" fill="#000" fill-opacity="0.08"/>
<polygon points="421,347 452,273 454,274 422,348" fill="#fff" fill-opacity="0.08"/>
<polygon points="497,163 524,97 530,99 501,165" fill="#000" fill-opacity="0.02"/>
<polygon points="421,349 451,282 454,283 422,350" fill="#fff" fill-opacity="0.07"/>
<polygon points="465,248 478,220 483,222 470,250" fill="#fff" fill-opacity="0.04"/>
<polygon points="422,351 447,302 450,304 423,352" fill="#fff" fill-opacity="0.04"/>
<polygon points="458,281 475,248 480,251 462,283" fill="#000" fill-opacity="0.06"/>
<polygon points="508,183 547,105 558,110 515,187" fill="#fff" fill-opacity="0.03"/>
<polygon points="485,242 513,192 518,195 489,244" fill="#fff" fill-opacity="0.04"/>
<polygon points="513,192 536,151 542,154 518,195" fill="#000" fill-opacity="0.02"/>
<polygon points="536,151 571,88 579,93 542,154" fill="#fff" fill-opacity="0.00"/>
<polygon points="448,312 459,294 462,296 451,313" fill="#fff" fill-opacity="0.10"/>
<polygon points="459,294 491,241 495,244 462,296" fill="#fff" fill-opacity="0.03"/>
<polygon points="491,241 518,195 524,199 495,244" fill="#fff" fill-opacity="0.06"/>
<polygon points="518,195 546,148 554,152 524,199" fill="#fff" fill-opacity="0.03"/>
<polygon points="416,368 441,329 443,330 416,368" fill="#fff" fill-opacity="0.11"/>
<polygon points="441,329 456,305 459,307 443,330" fill="#fff" fill-opacity="0.08"/>
<polygon points="456,305 470,283 474,286 459,307" fill="#000" fill-opacity="0.05"/>
<polygon points="523,201 565,135 575,141 530,206" fill="#fff" fill-opacity="0.04"/>
<polygon points="428,352 477,281 479,282 428,352" fill="#000" fill-opacity="0.08"/>
<polygon points="477,281 486,268 488,269 479,282" fill="#fff" fill-opacity="0.06"/>
<polygon points="486,268 498,252 500,253 488,269" fill="#fff" fill-opacity="0.07"/>
<polygon points="498,252 527,210 530,212 500,253" fill="#000" fill-opacity="0.09"/>
<polygon points="459,312 496,262 501,266 462,314" fill="#fff" fill-opacity="0.08"/>
<polygon points="523,226 553,186 561,192 529,231" fill="#000" fill-opacity="0.07"/>
<polygon points="470,305 526,235 530,238 472,306" fill="#fff" fill-opacity="0.05"/>
<polygon points="459,321 483,293 487,296 461,323" fill="#000" fill-opacity="0.09"/>
<polygon points="483,293 541,226 547,232 487,296" fill="#000" fill-opacity="0.09"/>
<polygon points="424,363 485,298 486,300 424,363" fill="#fff" fill-opacity="0.10"/>
<polygon points="574,203 632,140 636,144 577,206" fill="#fff" fill-opacity="0.02"/>
<polygon points="436,352 484,302 486,304 437,353" fill="#fff" fill-opacity="0.06"/>
<polygon points="484,302 516,269 520,272 486,304" fill="#fff" fill-opacity="0.04"/>
<polygon points="462,328 492,299 493,301 463,329" fill="#000" fill-opacity="0.04"/>
<polygon points="531,262 580,214 583,217 533,264" fill="#000" fill-opacity="0.03"/>
<polygon points="580,214 619,176 623,179 583,217" fill="#fff" fill-opacity="0.02"/>
<polygon points="422,367 445,346 446,347 423,368" fill="#fff" fill-opacity="0.10"/>
<polygon points="516,279 541,256 546,260 520,283" fill="#000" fill-opacity="0.04"/>
<polygon points="541,256 577,222 583,228 546,260" fill="#fff" fill-opacity="0.04"/>
<polygon points="599,202 612,190 619,197 605,209" fill="#fff" fill-opacity="0.00"/>
<polygon points="492,308 504,297 506,300 494,310" fill="#fff" fill-opacity="0.07"/>
<polygon points="504,297 516,287 518,290 506,300" fill="#fff" fill-opacity="0.10"/>
<polygon points="516,287 539,266 542,270 518,290" fill="#fff" fill-opacity="0.10"/>
<polygon points="539,266 556,251 560,255 542,270" fill="#fff" fill-opacity="0.04"/>
<polygon points="562,254 609,215 611,218 564,256" fill="#fff" fill-opacity="0.06"/>
<polygon points="568,253 590,235 595,242 572,259" fill="#fff" fill-opacity="0.02"/>
<polygon points="590,235 625,207 631,215 595,242" fill="#000" fill-opacity="0.03"/>
<polygon points="514,302 558,269 562,274 516,306" fill="#000" fill-opacity="0.10"/>
<polygon points="578,254 648,203 653,210 582,259" fill="#000" fill-opacity="0.04"/>
<polygon points="429,366 485,327 486,328 429,366" fill="#fff" fill-opacity="0.10"/>
<polygon points="545,285 578,262 580,265 547,287" fill="#000" fill-opacity="0.03"/>
<polygon points="582,264 640,224 646,233 586,270" fill="#fff" fill-opacity="0.03"/>
<polygon points="556,288 572,278 574,281 558,291" fill="#000" fill-opacity="0.04"/>
<polygon points="572,278 606,257 608,261 574,281" fill="#fff" fill-opacity="0.06"/>
<polygon points="625,245 683,209 686,214 627,249" fill="#000" fill-opacity="0.01"/>
<polygon points="429,368 498,327 499,328 429,368" fill="#fff" fill-opacity="0.08"/>
<polygon points="498,327 526,310 527,312 499,328" fill="#fff" fill-opacity="0.08"/>
<polygon points="424,371 443,361 444,362 425,372" fill="#fff" fill-opacity="0.08"/>
<polygon points="499,328 571,287 574,292 500,331" fill="#fff" fill-opacity="0.04"/>
<polygon points="453,357 491,336 493,339 454,358" fill="#000" fill-opacity="0.08"/>
<polygon points="551,304 605,275 608,282 553,309" fill="#fff" fill-opacity="0.05"/>
<polygon points="633,260 652,250 656,258 637,267" fill="#fff" fill-opacity="0.01"/>
<polygon points="417,377 438,366 438,367 417,377" fill="#fff" fill-opacity="0.07"/>
<polygon points="438,366 466,352 467,354 438,367" fill="#fff" fill-opacity="0.11"/>
<polygon points="546,313 568,302 570,306 547,317" fill="#000" fill-opacity="0.03"/>
<polygon points="437,368 499,339 500,342 438,369" fill="#fff" fill-opacity="0.10"/>
<polygon points="499,339 551,315 554,320 500,342" fill="#fff" fill-opacity="0.10"/>
<polygon points="416,378 452,363 453,364 417,378" fill="#fff" fill-opacity="0.08"/>
<polygon points="521,334 598,301 601,309 523,338" fill="#fff" fill-opacity="0.06"/>
<polygon points="440,369 513,342 514,345 441,370" fill="#fff" fill-opacity="0.09"/>
<polygon points="513,342 584,315 586,321 514,345" fill="#000" fill-opacity="0.09"/>
<polygon points="584,315 609,305 612,312 586,321" fill="#000" fill-opacity="0.05"/>
<polygon points="423,376 497,351 498,353 423,377" fill="#000" fill-opacity="0.04"/>
<polygon points="497,351 575,325 576,329 498,353" fill="#000" fill-opacity="0.11"/>
<polygon points="612,312 655,297 657,304 613,317" fill="#000" fill-opacity="0.03"/>
<polygon points="655,297 726,273 729,282 657,304" fill="#fff" fill-opacity="0.00"/>
<polygon points="423,377 491,356 492,359 423,377" fill="#000" fill-opacity="0.08"/>
<polygon points="516,355 567,342 568,347 517,358" fill="#fff" fill-opacity="0.04"/>
<polygon points="661,320 714,307 716,315 662,327" fill="#fff" fill-opacity="0.01"/>
<polygon points="541,355 588,345 589,350 542,358" fill="#000" fill-opacity="0.08"/>
<polygon points="623,338 654,332 655,339 624,344" fill="#fff" fill-opacity="0.04"/>
<polygon points="520,362 578,352 579,357 520,366" fill="#000" fill-opacity="0.10"/>
<polygon points="606,347 671,336 672,344 607,353" fill="#000" fill-opacity="0.04"/>
<polygon points="438,377 502,368 503,370 438,378" fill="#fff" fill-opacity="0.05"/>
<polygon points="502,368 565,359 566,363 503,370" fill="#fff" fill-opacity="0.05"/>
<polygon points="419,380 502,371 502,374 419,381" fill="#fff" fill-opacity="0.08"/>
<polygon points="502,371 543,366 543,371 502,374" fill="#000" fill-opacity="0.07"/>
<polygon points="430,380 496,375 496,376 430,380" fill="#000" fill-opacity="0.06"/>
<polygon points="548,371 635,364 636,368 548,373" fill="#fff" fill-opacity="0.08"/>
<polygon points="635,364 677,361 678,365 636,368" fill="#fff" fill-opacity="0.04"/>
<polygon points="424,381 513,375 513,377 424,381" fill="#fff" fill-opacity="0.05"/>
<polygon points="555,373 598,370 598,373 555,375" fill="#fff" fill-opacity="0.07"/>
<polygon points="480,378 541,375 541,378 480,380" fill="#fff" fill-opacity="0.04"/>
<polygon points="641,375 695,374 695,381 641,381" fill="#000" fill-opacity="0.03"/>
<polygon points="428,382 485,381 485,384 428,382" fill="#000" fill-opacity="0.08"/>
<polygon points="485,381 520,381 520,385 485,384" fill="#fff" fill-opacity="0.06"/>
<polygon points="640,381 674,381 674,389 640,388" fill="#fff" fill-opacity="0.01"/>
<polygon points="674,381 737,381 737,390 674,389" fill="#fff" fill-opacity="0.00"/>
<polyline points="316,354 318,447 300,490 279,528" fill="none" stroke="#fff" stroke-opacity="0.09" stroke-width="7"/>
</g>
</g>
<g fill="#fff">
<polygon points="93.0,94.8 98.4,89.5 103.0,86.9 104.3,86.2 108.2,84.9 112.8,83.0 114.8,81.7 117.4,80.3 119.4,81.0 120.0,83.0 118.1,85.6 116.1,88.2 115.4,90.8 111.5,93.5 108.2,95.4 104.3,97.4 101.0,99.4 99.7,102.0 97.1,104.6 94.4,107.9 93.0,108.6"/>
<polygon points="93.0,143.5 95.4,144.5 95.4,146.8 93.0,147.0"/>
<polygon points="249.0,75.0 556.0,75.0 556.0,293.6 549.8,297.7 546.6,300.2 543.3,296.1 536.8,292.0 527.0,287.1 523.7,282.2 517.2,275.7 510.7,275.7 509.0,280.6 504.2,279.0 497.6,272.4 489.5,269.2 481.3,265.9 474.8,261.0 469.5,259.1 465.0,256.0 463.4,252.8 458.5,249.6 453.6,247.9 450.3,244.7 445.4,239.8 440.5,234.9 434.0,233.3 425.8,230.0 424.2,226.7 427.5,223.5 425.8,217.0 417.7,213.7 416.3,210.8 416.3,205.2 410.7,203.8 416.3,202.4 416.3,198.2 409.3,196.8 400.9,196.8 392.5,199.6 385.4,203.8 384.0,211.5 378.4,210.8 379.8,206.6 375.6,204.5 370.0,205.2 366.1,203.0 363.2,199.1 358.3,195.1 357.3,190.2 352.4,186.3 346.5,183.3 340.6,185.3 334.6,182.3 328.7,177.4 324.8,178.4 321.9,177.4 320.9,171.5 318.9,168.5 311.0,169.5 307.1,171.5 309.1,175.4 313.0,178.4 315.0,181.3 317.9,184.3 319.9,189.2 322.8,195.1 322.8,201.0 324.8,205.0 328.7,212.8 329.7,216.8 332.7,222.7 336.6,228.6 334.6,233.5 328.7,230.6 326.8,222.7 320.9,220.7 316.9,218.7 317.9,214.8 320.9,206.9 316.9,205.0 315.0,208.9 311.0,206.9 309.1,199.1 306.1,196.1 302.2,197.1 298.2,193.1 295.3,184.3 292.3,180.4 291.3,176.4 285.4,174.4 279.5,173.5 273.6,175.4 268.7,178.4 265.7,182.3 261.8,188.2 258.9,185.3 259.8,177.4 258.9,169.5 255.9,163.6 258.9,159.7 257.9,156.7 255.5,155.1 250.0,154.2 247.2,150.5 244.5,145.0 245.4,139.5 242.6,133.9 238.9,128.4 241.7,124.7 238.9,118.3 235.3,114.6 231.6,111.8 230.7,107.2 228.8,100.8 227.0,97.1 229.7,92.5 236.2,89.7 241.7,86.0 244.5,82.4 245.4,77.8 248.1,75.9"/>
<polygon points="93.0,321.1 97.5,322.6 99.0,331.6 99.0,342.0 106.4,343.5 110.9,334.6 113.9,324.1 121.3,319.6 121.3,315.2 131.8,313.7 137.7,307.7 143.7,309.2 148.2,312.2 151.2,316.7 157.1,316.7 163.1,319.6 164.6,328.6 163.1,337.5 158.6,343.5 155.6,349.5 157.1,355.4 155.0,363.8 158.3,368.7 157.4,375.2 159.9,380.1 154.1,382.3 149.7,379.3 148.2,383.8 140.3,385.0 132.2,385.0 123.2,385.0 121.5,389.1 113.4,394.0 112.6,399.7 114.2,406.2 117.5,417.6 120.7,420.9 124.0,425.8 132.2,427.4 136.2,430.7 137.9,438.8 140.3,442.1 143.0,447.0 147.6,447.0 151.7,456.8 158.3,464.9 161.8,470.0 159.4,473.7 150.8,474.9 144.6,479.8 133.6,485.4 121.3,489.7 107.7,490.3 101.6,496.4 97.9,494.6 94.2,499.5 93.0,499.5"/>
<polygon points="155.0,493.5 158.3,490.2 164.8,486.2 174.6,482.1 186.0,478.0 189.3,476.4 194.2,476.4 195.8,479.6 202.3,486.2 207.2,491.0 210.5,494.3 213.7,499.2 216.2,505.7 216.2,512.3 213.7,515.5 210.5,515.5 205.6,510.6 202.3,507.4 195.8,505.7 190.9,507.4 186.0,510.6 179.5,512.3 174.6,507.4 171.3,500.8 164.8,497.6 158.3,495.9"/>
<polygon points="93.0,515.5 105.3,510.6 117.6,506.3 122.5,508.7 125.6,505.6 128.6,506.9 129.9,511.8 133.6,516.1 136.6,519.2 133.6,520.4 129.9,519.2 127.4,520.4 125.6,527.8 128.6,533.9 129.9,538.0 93.0,538.0"/>
<polygon points="139.7,516.7 143.4,519.2 148.3,525.3 152.0,531.4 154.4,538.0 149.5,538.0 145.8,531.4 142.2,527.8 139.7,525.9"/>
<polygon points="131.1,502.6 134.8,498.9 138.5,497.6 138.5,502.0 136.6,506.3 133.6,504.4"/>
<polygon points="234.9,456.8 241.5,455.2 246.4,454.3 248.0,460.1 254.5,468.2 262.7,473.1 272.5,475.5 275.7,477.2 274.1,479.6 265.9,481.3 261.0,486.2 261.0,489.4 264.3,494.3 267.6,499.2 264.3,504.1 261.0,509.0 257.8,515.5 261.0,520.4 257.8,523.7 251.3,525.3 248.0,526.9 243.1,530.2 239.8,535.1 234.9,536.7 233.3,531.8 234.9,525.3 236.6,518.8 234.9,512.3 234.9,504.1 233.3,495.9 231.7,487.8 231.7,479.6 233.3,471.5 234.9,463.3"/>
<polygon points="328.0,500.8 331.2,497.6 337.7,496.8 344.3,497.6 345.9,500.8 344.3,505.7 347.5,509.0 352.4,507.4 357.3,505.7 362.2,504.1 365.5,503.3 363.8,509.0 362.2,515.5 360.6,522.0 363.8,528.6 363.8,533.5 357.3,536.7 347.5,535.1 342.6,531.8 337.7,526.9 332.8,528.6 329.6,533.5 327.9,538.0 311.6,538.0 308.4,531.8 314.9,528.6 319.8,525.3 323.0,518.8 324.7,512.3 325.5,505.7"/>
<polygon points="556.0,427.4 553.9,427.4 548.2,432.3 541.7,434.0 536.8,435.6 530.3,437.2 528.6,432.3 525.4,433.9 520.5,442.9 517.2,447.0 512.3,451.9 507.4,456.8 500.9,461.7 492.7,464.9 484.6,469.8 478.0,473.1 473.2,476.4 465.0,478.0 460.1,481.3 455.2,489.4 448.7,491.9 442.1,493.5 435.6,495.9 427.5,495.1 420.9,499.2 417.7,502.5 411.2,504.1 404.6,504.9 398.1,507.4 389.9,509.0 396.5,510.6 404.6,512.3 407.1,515.5 406.3,522.0 407.9,526.9 404.6,531.8 401.4,538.0 556.0,538.0"/>
<polygon points="159.1,418.4 161.5,417.6 163.1,420.9 168.0,422.5 170.5,425.0 168.9,427.4 164.8,428.2 160.7,427.4 158.3,424.1"/>
<polygon points="210.0,171.0 214.5,166.5 219.0,171.0 214.5,175.5"/>
<polygon points="247.0,198.0 254.0,189.5 257.5,190.5 251.0,199.5"/>
<polygon points="258.6,227.5 262.0,225.5 265.0,228.0 268.5,225.5 271.0,227.0 266.0,234.0 263.0,233.0"/>
<polygon points="247.0,242.0 251.5,237.0 253.0,238.5 248.5,243.5"/>
<polygon points="272.5,283.5 275.5,280.5 278.5,283.5 275.5,286.5"/>
<polyline fill="none" stroke="#fff" stroke-width="2.2" stroke-linecap="round" stroke-linejoin="round" points="520.5,379.2 527.0,387.6 529.7,394.2"/>
<polyline fill="none" stroke="#fff" stroke-width="1.8" stroke-linecap="round" stroke-linejoin="round" points="527.0,387.6 523.1,394.2"/>
<polyline fill="none" stroke="#fff" stroke-width="2.0" stroke-linecap="round" stroke-linejoin="round" points="527.0,387.6 534.1,382.3 540.2,387.6"/>
<ellipse cx="281.5" cy="418.0" rx="1.6" ry="3.2"/>
<ellipse cx="284.0" cy="422.5" rx="1.3" ry="2.0"/>
<ellipse cx="285.5" cy="439.0" rx="1.5" ry="3.5"/>
<ellipse cx="283.0" cy="443.0" rx="1.2" ry="1.5"/>
<ellipse cx="276.5" cy="427.5" rx="2.0" ry="3.0"/>
<ellipse cx="281.5" cy="466.0" rx="2.2" ry="3.5"/>
<ellipse cx="281.0" cy="449.0" rx="1.0" ry="1.0"/>
<ellipse cx="526.5" cy="387.5" rx="2.6" ry="2.8"/>
<ellipse cx="541.3" cy="367.8" rx="1.1" ry="3.0"/>
<ellipse cx="545.3" cy="382.7" rx="1.1" ry="3.0"/>
<ellipse cx="544.3" cy="397.5" rx="0.7" ry="1.6"/>
<ellipse cx="529.5" cy="289.0" rx="5.5" ry="3.5"/>
</g>
<polygon fill="#46317e" points="268.7,169.5 273.6,166.6 283.5,164.6 292.3,161.7 296.3,163.6 293.3,166.6 279.5,169.5 273.6,172.5 268.7,172.5"/>
<polygon fill="#46317e" points="318.9,163.6 324.8,160.7 333.7,158.7 336.6,160.7 332.7,163.6 324.8,166.6 319.9,166.6"/>
<polygon fill="#46317e" points="295.0,184.0 303.0,180.5 308.0,185.0 305.0,191.0 298.0,191.5"/>
<polygon fill="#46317e" points="374.9,158.9 375.6,156.1 379.1,151.9 389.7,151.6 391.1,154.7 399.5,156.8 407.2,157.5 416.3,156.1 423.4,156.8 424.1,160.3 417.8,161.0 409.3,161.7 409.3,165.2 400.9,166.2 400.2,168.7 392.5,168.7 391.1,166.6 386.9,167.3 381.2,163.8 379.8,160.3"/>
<polygon fill="#46317e" points="385.4,168.7 392.5,167.6 400.2,168.7 400.9,174.3 402.3,179.2 409.3,179.7 409.3,182.0 398.1,182.0 391.1,181.1 386.2,176.4"/>
<polygon fill="#46317e" points="425.5,163.1 437.4,161.0 450.1,163.8 450.8,165.9 457.1,174.3 462.0,179.9 463.4,182.8 461.3,191.2 458.5,196.8 457.8,202.4 452.9,203.8 448.7,199.6 444.4,196.8 433.2,195.4 429.0,191.2 427.6,187.0 423.4,182.8 423.4,179.9 417.8,174.3 412.1,168.7 416.3,167.3 424.8,166.6"/>
<polygon fill="#46317e" points="524.5,270.1 529.4,269.2 535.2,274.9 540.9,280.7 546.7,286.5 552.5,292.3 556.0,294.2 556.0,300.0 550.6,300.0 544.8,295.2 537.1,288.5 531.3,280.7 526.5,274.9"/>
<polygon fill="#46317e" points="93.0,408.6 99.5,407.8 102.0,411.9 106.0,412.7 109.3,416.0 110.9,422.5 109.3,427.4 108.5,432.3 109.3,438.8 106.0,439.6 104.4,433.9 100.3,430.7 97.9,430.7 94.6,429.9 93.0,430.7"/>
<polygon fill="#46317e" points="521.0,532.0 529.0,520.0 535.0,519.0 540.0,525.0 531.0,536.0 524.0,537.0"/>
<polygon fill="#46317e" points="517.0,517.0 523.0,511.0 528.0,512.0 522.0,519.0"/>
<polygon fill="#46317e" points="479.0,534.0 486.0,526.0 492.0,527.0 486.0,536.0"/>
<polygon fill="#46317e" points="492.0,536.0 499.0,528.0 505.0,530.0 500.0,538.0"/>
<polyline fill="none" stroke="#46317e" stroke-width="9.0" stroke-linecap="round" stroke-linejoin="round" points="469.5,218.5 490.0,233.0 508.0,253.0"/>
<polyline fill="none" stroke="#46317e" stroke-width="5.0" stroke-linecap="round" stroke-linejoin="round" points="511.5,228.0 527.0,238.5"/>
<polyline fill="none" stroke="#46317e" stroke-width="5.5" stroke-linecap="round" stroke-linejoin="round" points="511.5,238.5 531.0,258.0"/>
<polyline fill="none" stroke="#46317e" stroke-width="6.0" stroke-linecap="round" stroke-linejoin="round" points="508.0,217.0 528.0,221.0"/>
<ellipse fill="#46317e" cx="386.9" cy="145.9" rx="4.3" ry="2.5"/>
<ellipse fill="#46317e" cx="428.0" cy="152.5" rx="6.0" ry="2.9"/>
<ellipse fill="#46317e" cx="451.1" cy="208.0" rx="4.6" ry="2.8"/>
<ellipse fill="#46317e" cx="449.8" cy="221.0" rx="3.8" ry="2.5"/>
<ellipse fill="#365b8c" cx="549.5" cy="177.5" rx="6.0" ry="5.0"/>
<ellipse fill="#46317e" cx="546.2" cy="273.5" rx="2.5" ry="2.5"/>
<ellipse fill="#46317e" cx="553.8" cy="281.7" rx="2.2" ry="2.9"/>
<ellipse fill="#46317e" cx="330.0" cy="163.0" rx="9.0" ry="3.0"/>
<ellipse fill="#46317e" cx="287.5" cy="164.5" rx="8.0" ry="3.0"/>
<ellipse fill="#46317e" cx="148.2" cy="323.3" rx="4.5" ry="5.3"/>
<ellipse fill="#46317e" cx="137.7" cy="345.0" rx="3.0" ry="4.5"/>
<ellipse fill="#46317e" cx="149.6" cy="343.5" rx="3.0" ry="3.0"/>
<ellipse fill="#46317e" cx="147.2" cy="381.3" rx="2.0" ry="3.7"/>
<ellipse fill="#46317e" cx="138.7" cy="450.2" rx="3.3" ry="3.3"/>
<ellipse fill="#46317e" cx="402.0" cy="509.4" rx="4.0" ry="2.0"/>
<ellipse fill="#46317e" cx="422.6" cy="517.1" rx="4.9" ry="3.3"/>
<ellipse fill="#46317e" cx="420.1" cy="527.7" rx="5.7" ry="2.5"/>
<ellipse fill="#46317e" cx="444.5" cy="499.2" rx="2.5" ry="1.6"/>
<ellipse fill="#46317e" cx="454.4" cy="507.0" rx="2.4" ry="2.0"/>
<ellipse fill="#46317e" cx="468.2" cy="487.7" rx="3.3" ry="3.3"/>
<ellipse fill="#46317e" cx="485.4" cy="482.0" rx="2.4" ry="2.5"/>
<ellipse fill="#46317e" cx="493.1" cy="479.6" rx="2.9" ry="2.5"/>
<ellipse fill="#46317e" cx="504.1" cy="468.2" rx="3.3" ry="2.5"/>
<ellipse fill="#46317e" cx="522.1" cy="496.0" rx="4.9" ry="3.3"/>
<ellipse fill="#46317e" cx="533.5" cy="479.2" rx="3.3" ry="2.0"/>
<ellipse fill="#46317e" cx="548.2" cy="474.3" rx="4.1" ry="3.7"/>
<ellipse fill="#46317e" cx="467.5" cy="533.3" rx="2.5" ry="3.3"/>
<ellipse fill="#46317e" cx="470.0" cy="531.0" rx="3.0" ry="2.2"/>
<ellipse fill="#46317e" cx="504.5" cy="231.0" rx="4.5" ry="7.0"/>
<ellipse fill="#46317e" cx="536.3" cy="247.0" rx="4.0" ry="4.6"/>
<ellipse fill="#46317e" cx="548.0" cy="247.6" rx="7.5" ry="8.0"/>
<ellipse fill="#46317e" cx="537.6" cy="227.9" rx="2.6" ry="2.6"/>
<ellipse fill="#46317e" cx="486.9" cy="202.9" rx="4.6" ry="3.9"/>
<ellipse fill="#46317e" cx="478.3" cy="210.2" rx="5.3" ry="2.7"/>
<ellipse fill="#46317e" cx="516.5" cy="212.0" rx="4.0" ry="2.0"/>
<ellipse fill="#46317e" cx="468.5" cy="245.3" rx="3.3" ry="3.0"/>
<ellipse fill="#46317e" cx="460.3" cy="247.0" rx="2.3" ry="2.0"/>
<ellipse fill="#365b8c" cx="496.0" cy="254.9" rx="7.0" ry="4.6"/>
<ellipse fill="#46317e" cx="381.5" cy="166.6" rx="3.5" ry="1.8"/>
<g stroke="#b4b4b4" stroke-width="1.6" stroke-opacity="0.9">
<line x1="139.30" y1="75.5" x2="139.30" y2="538.0"/>
<line x1="93.0" y1="121.75" x2="556.0" y2="121.75"/>
<line x1="185.60" y1="75.5" x2="185.60" y2="538.0"/>
<line x1="93.0" y1="168.00" x2="556.0" y2="168.00"/>
<line x1="231.90" y1="75.5" x2="231.90" y2="538.0"/>
<line x1="93.0" y1="214.25" x2="556.0" y2="214.25"/>
<line x1="278.20" y1="75.5" x2="278.20" y2="538.0"/>
<line x1="93.0" y1="260.50" x2="556.0" y2="260.50"/>
<line x1="324.50" y1="75.5" x2="324.50" y2="538.0"/>
<line x1="93.0" y1="306.75" x2="556.0" y2="306.75"/>
<line x1="370.80" y1="75.5" x2="370.80" y2="538.0"/>
<line x1="93.0" y1="353.00" x2="556.0" y2="353.00"/>
<line x1="417.10" y1="75.5" x2="417.10" y2="538.0"/>
<line x1="93.0" y1="399.25" x2="556.0" y2="399.25"/>
<line x1="463.40" y1="75.5" x2="463.40" y2="538.0"/>
<line x1="93.0" y1="445.50" x2="556.0" y2="445.50"/>
<line x1="509.70" y1="75.5" x2="509.70" y2="538.0"/>
<line x1="93.0" y1="491.75" x2="556.0" y2="491.75"/>
</g>
<polyline points="481.3,75 556,158.5" fill="none" stroke="#111" stroke-width="1.8"/>
<polyline points="556,438.8 477.2,472.3 505,538" fill="none" stroke="#111" stroke-width="1.8"/>
<circle cx="406.8" cy="381.6" r="6" fill="#ff0000"/>
<circle cx="363" cy="459.2" r="6" fill="#ff0000"/>
</g>
<rect x="93" y="75.5" width="463" height="462.5" fill="none" stroke="#000" stroke-width="1.4"/>
<text x="83.2" y="128.15" class="t" text-anchor="end">32.2°N</text>
<text x="83.2" y="174.40" class="t" text-anchor="end">32°N</text>
<text x="83.2" y="220.65" class="t" text-anchor="end">31.8°N</text>
<text x="83.2" y="266.90" class="t" text-anchor="end">31.6°N</text>
<text x="83.2" y="313.15" class="t" text-anchor="end">31.4°N</text>
<text x="83.2" y="359.40" class="t" text-anchor="end">31.2°N</text>
<text x="83.2" y="405.65" class="t" text-anchor="end">31°N</text>
<text x="83.2" y="451.90" class="t" text-anchor="end">30.8°N</text>
<text x="83.2" y="498.15" class="t" text-anchor="end">30.6°N</text>
<text x="139.30" y="561.4" class="t" text-anchor="middle">119.8°E</text>
<text x="231.90" y="561.4" class="t" text-anchor="middle">120.2°E</text>
<text x="324.50" y="561.4" class="t" text-anchor="middle">120.6°E</text>
<text x="417.10" y="561.4" class="t" text-anchor="middle">121°E</text>
<text x="509.70" y="561.4" class="t" text-anchor="middle">121.4°E</text>
<rect x="587" y="75.5" width="22.7" height="462.3" fill="url(#vg)" stroke="#000" stroke-width="1.4"/>
<line x1="609.7" y1="505.10" x2="615.8" y2="505.10" stroke="#000" stroke-width="1.1"/>
<text x="622" y="511.70" class="t">0</text>
<line x1="609.7" y1="439.13" x2="615.8" y2="439.13" stroke="#000" stroke-width="1.1"/>
<text x="622" y="445.73" class="t">10</text>
<line x1="609.7" y1="373.16" x2="615.8" y2="373.16" stroke="#000" stroke-width="1.1"/>
<text x="622" y="379.76" class="t">20</text>
<line x1="609.7" y1="307.19" x2="615.8" y2="307.19" stroke="#000" stroke-width="1.1"/>
<text x="622" y="313.79" class="t">30</text>
<line x1="609.7" y1="241.22" x2="615.8" y2="241.22" stroke="#000" stroke-width="1.1"/>
<text x="622" y="247.82" class="t">40</text>
<line x1="609.7" y1="175.25" x2="615.8" y2="175.25" stroke="#000" stroke-width="1.1"/>
<text x="622" y="181.85" class="t">50</text>
<line x1="609.7" y1="109.28" x2="615.8" y2="109.28" stroke="#000" stroke-width="1.1"/>
<text x="622" y="115.88" class="t">60</text>
<text transform="translate(662.6,307.9) rotate(-90)" text-anchor="middle" class="t" style="font-size:17.5px">equivalent reflectivity factor (dBZ)</text>
<text x="324.3" y="40" text-anchor="middle" class="ti">0.5 Deg. 2022-07-26T06:36:55Z</text>
<text x="324.3" y="65.5" text-anchor="middle" class="ti">Equivalent reflectivity factor</text>
</svg>
</body></html>
